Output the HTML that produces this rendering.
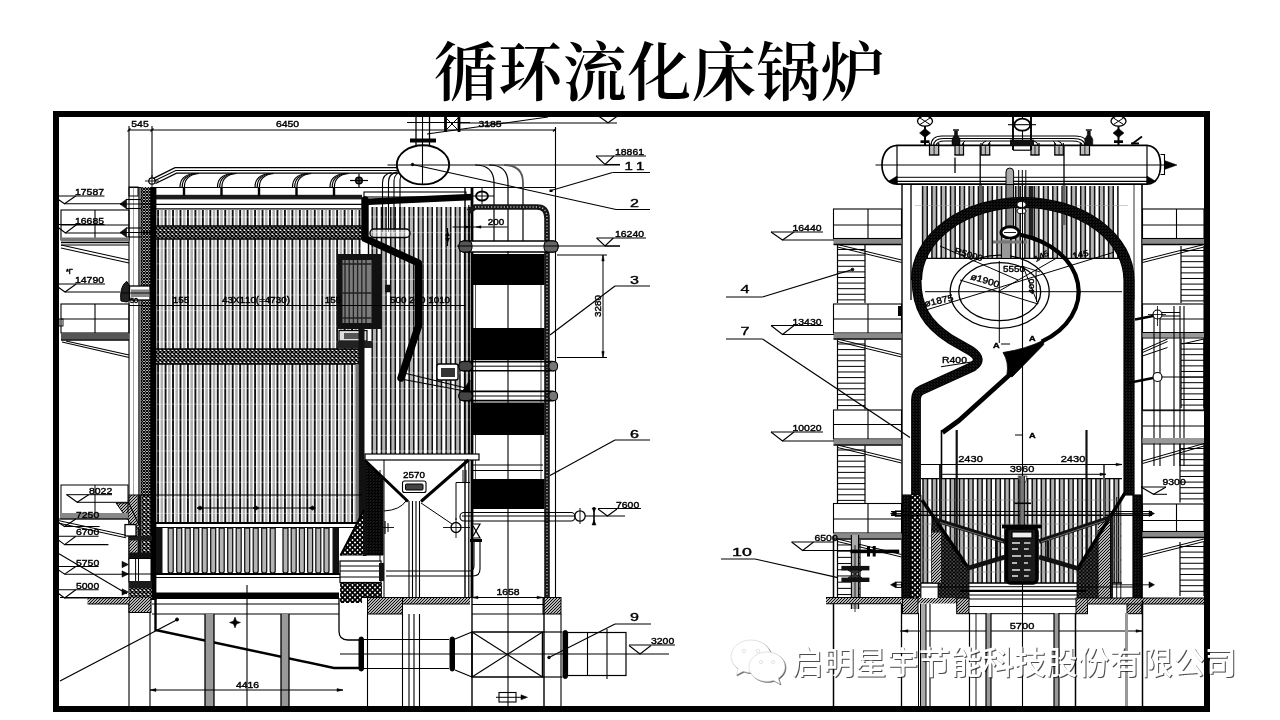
<!DOCTYPE html>
<html lang="zh"><head><meta charset="utf-8"><title>循环流化床锅炉</title>
<style>
html,body{margin:0;padding:0;background:#fff;}
body{width:1280px;height:720px;overflow:hidden;position:relative;font-family:"Liberation Sans","Noto Sans CJK SC",sans-serif;}
h1{position:absolute;left:0;top:34px;width:1280px;margin:0;text-align:center;font-family:"Liberation Serif","Noto Serif CJK SC",serif;font-weight:600;font-size:64px;line-height:80px;letter-spacing:0.5px;color:#000;padding-left:39px;box-sizing:border-box;}
svg{position:absolute;left:0;top:0;}
svg text{font-family:"Liberation Sans","Noto Sans CJK SC",sans-serif;stroke:#000;stroke-width:0.4px;font-kerning:none;}
#wm text{stroke:none;}
</style></head><body>
<h1>循环流化床锅炉</h1>
<svg width="1280" height="720" viewBox="0 0 1280 720">
<defs>
<pattern id="xh" width="4" height="4" patternUnits="userSpaceOnUse"><rect width="4" height="4" fill="#fff"/><path d="M0 0L4 4M4 0L0 4" stroke="#000" stroke-width="1.5"/></pattern>
<pattern id="xh2" width="5" height="5" patternUnits="userSpaceOnUse"><rect width="5" height="5" fill="#fff"/><path d="M0 0L5 5M5 0L0 5" stroke="#000" stroke-width="1.9"/></pattern>
<pattern id="dh" width="3" height="3" patternUnits="userSpaceOnUse"><rect width="3" height="3" fill="#fff"/><path d="M-1 1L1 -1M0 3L3 0M2 4L4 2" stroke="#000" stroke-width="1.1"/></pattern>
<pattern id="wh" width="3" height="3" patternUnits="userSpaceOnUse"><rect width="3" height="3" fill="#fff"/><path d="M-1 1L1 -1M0 3L3 0M2 4L4 2" stroke="#000" stroke-width="1.95"/></pattern>
<pattern id="wh2" width="3" height="3" patternUnits="userSpaceOnUse"><rect width="3" height="3" fill="#fff"/><path d="M-1 2L1 4M0 0L3 3M2 -1L4 1" stroke="#000" stroke-width="1.95"/></pattern>
<pattern id="wl" width="3" height="3" patternUnits="userSpaceOnUse"><rect width="3" height="3" fill="#fff"/><path d="M0 0L3 3M3 0L0 3" stroke="#000" stroke-width="1.15"/></pattern>
<pattern id="xh3" width="3.6" height="3.6" patternUnits="userSpaceOnUse"><rect width="3.6" height="3.6" fill="#fff"/><path d="M0 0L3.6 3.6M3.6 0L0 3.6" stroke="#000" stroke-width="1.7"/></pattern>
</defs>
<clipPath id="clipf"><rect x="59" y="117" width="1145" height="589"/></clipPath>
<g clip-path="url(#clipf)" stroke-linecap="butt" style="filter:blur(0.35px)">
<line x1="129" y1="130" x2="556" y2="130" stroke="#000" stroke-width="1.1" />
<line x1="129" y1="126" x2="129" y2="600" stroke="#000" stroke-width="1.1" />
<line x1="152" y1="126" x2="152" y2="182" stroke="#000" stroke-width="1.1" />
<line x1="555.5" y1="127" x2="555.5" y2="598" stroke="#000" stroke-width="1.1" />
<text x="0" y="0" font-size="9.01" text-anchor="middle" font-weight="normal" fill="#000" transform="translate(140 126.5) scale(1.16 1)" >545</text>
<text x="0" y="0" font-size="9.01" text-anchor="middle" font-weight="normal" fill="#000" transform="translate(287.5 126.5) scale(1.16 1)" >6450</text>
<text x="0" y="0" font-size="9.01" text-anchor="middle" font-weight="normal" fill="#000" transform="translate(490 126.5) scale(1.16 1)" >3185</text>
<path d="M127.5 131.5 L130.5 128.5" fill="none" stroke="#000" stroke-width="1.3" />
<path d="M150.5 131.5 L153.5 128.5" fill="none" stroke="#000" stroke-width="1.3" />
<path d="M553 131.5 L556 128.5" fill="none" stroke="#000" stroke-width="1.3" />
<path d="M161.83 210V523M169.29 210V523M176.75 210V523M184.21 210V523M191.67 210V523M199.13 210V523M206.59 210V523M214.05 210V523M221.51 210V523M228.97 210V523M236.43 210V523M243.89 210V523M251.35 210V523M258.81 210V523M266.27 210V523M273.73 210V523M281.19 210V523M288.65 210V523M296.11 210V523M303.57 210V523M311.03 210V523M318.49 210V523M325.95 210V523M333.41 210V523M340.87 210V523M348.33 210V523M355.79 210V523" fill="none" stroke="#b0b0b0" stroke-width="2.6" />
<path d="M158.1 210V523M165.56 210V523M173.02 210V523M180.48 210V523M187.94 210V523M195.4 210V523M202.86 210V523M210.32 210V523M217.78 210V523M225.24 210V523M232.7 210V523M240.16 210V523M247.62 210V523M255.08 210V523M262.54 210V523M270 210V523M277.46 210V523M284.92 210V523M292.38 210V523M299.84 210V523M307.3 210V523M314.76 210V523M322.22 210V523M329.68 210V523M337.14 210V523M344.6 210V523M352.06 210V523M359.52 210V523" fill="none" stroke="#111" stroke-width="1.9" />
<path d="M372.2 207H376.82V456H372.2ZM381.44 207H386.06V456H381.44ZM390.68 207H395.3V456H390.68ZM399.92 207H404.54V456H399.92ZM409.16 207H413.78V456H409.16ZM418.4 207H423.02V456H418.4ZM427.64 207H432.26V456H427.64ZM436.88 207H441.5V456H436.88ZM446.12 207H450.74V456H446.12ZM455.36 207H459.98V456H455.36ZM464.6 207H469.22V456H464.6Z" fill="#b4b4b4" stroke="none"/>
<path d="M372.2 207V456M376.82 207V456M381.44 207V456M386.06 207V456M390.68 207V456M395.3 207V456M399.92 207V456M404.54 207V456M409.16 207V456M413.78 207V456M418.4 207V456M423.02 207V456M427.64 207V456M432.26 207V456M436.88 207V456M441.5 207V456M446.12 207V456M450.74 207V456M455.36 207V456M459.98 207V456M464.6 207V456M469.22 207V456" fill="none" stroke="#111" stroke-width="1.5" />
<path d="M156 217H470M156 232.6H470M156 248.2H470M156 263.8H470M156 279.4H470M156 295H470M156 310.6H470M156 326.2H470M156 341.8H470M156 357.4H470M156 373H470M156 388.6H470M156 404.2H470M156 419.8H470M156 435.4H470M156 451H470M156 466.6H470M156 482.2H470M156 497.8H470M156 513.4H470" fill="none" stroke="rgba(255,255,255,0.45)" stroke-width="0.8" />
<line x1="129" y1="187.5" x2="556" y2="187.5" stroke="#000" stroke-width="1.1" />
<rect x="152" y="194.8" width="210" height="4.6" fill="#1c1c1c"/>
<line x1="152" y1="204.4" x2="362" y2="204.4" stroke="#000" stroke-width="1.1" />
<line x1="152" y1="208.8" x2="362" y2="208.8" stroke="#000" stroke-width="1.3" />
<rect x="152" y="226" width="216" height="13" fill="url(#xh)"/>
<line x1="152" y1="226" x2="368" y2="226" stroke="#000" stroke-width="1.4" />
<line x1="152" y1="239" x2="368" y2="239" stroke="#000" stroke-width="1.4" />
<rect x="152" y="349" width="212" height="15" fill="url(#xh)"/>
<line x1="152" y1="349" x2="364" y2="349" stroke="#000" stroke-width="1.4" />
<line x1="152" y1="364" x2="364" y2="364" stroke="#000" stroke-width="1.4" />
<circle cx="152" cy="181" r="3.2" fill="#fff" stroke="#000" stroke-width="1.2"/>
<line x1="145" y1="181" x2="159" y2="181" stroke="#000" stroke-width="0.9" />
<line x1="152" y1="175" x2="152" y2="187" stroke="#000" stroke-width="0.9" />
<path d="M153.5 178.3 L175 167.7 L398 167.7" fill="none" stroke="#000" stroke-width="1.3" />
<path d="M154.5 180.8 L175.8 170.5 L398 170.5" fill="none" stroke="#000" stroke-width="1.1" />
<path d="M155.5 183.5 L176.6 173.2 L398 173.2" fill="none" stroke="#000" stroke-width="1.3" />
<path d="M180 187 C180 179 184.5 174.5 194.5 173.5" fill="none" stroke="#000" stroke-width="1.2" />
<path d="M182.2 187 C182.2 179 186.7 174.5 196.7 173.5" fill="none" stroke="#000" stroke-width="1.2" />
<path d="M184.4 187 C184.4 179 188.9 174.5 198.9 173.5" fill="none" stroke="#000" stroke-width="1.2" />
<line x1="184" y1="187" x2="184" y2="196" stroke="#000" stroke-width="2.4" />
<path d="M217.5 187 C217.5 179 222 174.5 232 173.5" fill="none" stroke="#000" stroke-width="1.2" />
<path d="M219.7 187 C219.7 179 224.2 174.5 234.2 173.5" fill="none" stroke="#000" stroke-width="1.2" />
<path d="M221.9 187 C221.9 179 226.4 174.5 236.4 173.5" fill="none" stroke="#000" stroke-width="1.2" />
<line x1="221.5" y1="187" x2="221.5" y2="196" stroke="#000" stroke-width="2.4" />
<path d="M255 187 C255 179 259.5 174.5 269.5 173.5" fill="none" stroke="#000" stroke-width="1.2" />
<path d="M257.2 187 C257.2 179 261.7 174.5 271.7 173.5" fill="none" stroke="#000" stroke-width="1.2" />
<path d="M259.4 187 C259.4 179 263.9 174.5 273.9 173.5" fill="none" stroke="#000" stroke-width="1.2" />
<line x1="259" y1="187" x2="259" y2="196" stroke="#000" stroke-width="2.4" />
<path d="M292.5 187 C292.5 179 297 174.5 307 173.5" fill="none" stroke="#000" stroke-width="1.2" />
<path d="M294.7 187 C294.7 179 299.2 174.5 309.2 173.5" fill="none" stroke="#000" stroke-width="1.2" />
<path d="M296.9 187 C296.9 179 301.4 174.5 311.4 173.5" fill="none" stroke="#000" stroke-width="1.2" />
<line x1="296.5" y1="187" x2="296.5" y2="196" stroke="#000" stroke-width="2.4" />
<path d="M330 187 C330 179 334.5 174.5 344.5 173.5" fill="none" stroke="#000" stroke-width="1.2" />
<path d="M332.2 187 C332.2 179 336.7 174.5 346.7 173.5" fill="none" stroke="#000" stroke-width="1.2" />
<path d="M334.4 187 C334.4 179 338.9 174.5 348.9 173.5" fill="none" stroke="#000" stroke-width="1.2" />
<line x1="334" y1="187" x2="334" y2="196" stroke="#000" stroke-width="2.4" />
<circle cx="359" cy="180.5" r="3.3" fill="#555" stroke="#000" stroke-width="1.5"/>
<line x1="350" y1="180.5" x2="368" y2="180.5" stroke="#000" stroke-width="1.2" />
<line x1="359" y1="174" x2="359" y2="187" stroke="#000" stroke-width="1.2" />
<path d="M382.5 232 V183 Q382.5 174 391.5 172.5" fill="none" stroke="#000" stroke-width="1.1" />
<path d="M388.5 232 V182 Q388.5 173.5 397.5 171.9" fill="none" stroke="#000" stroke-width="1.1" />
<path d="M394 232 V181 Q394 173 403 171.3" fill="none" stroke="#000" stroke-width="1.1" />
<path d="M400 232 V180 Q400 172.5 409 170.7" fill="none" stroke="#000" stroke-width="1.1" />
<ellipse cx="423" cy="164.8" rx="26.2" ry="19.6" fill="#fff" stroke="#000" stroke-width="1.9"/>
<line x1="387.5" y1="165" x2="620" y2="165" stroke="#000" stroke-width="1.1" />
<line x1="422.5" y1="117" x2="422.5" y2="184" stroke="#000" stroke-width="1.1" />
<circle cx="412.5" cy="164.5" r="1.2" fill="#000" stroke="#000" stroke-width="1"/>
<line x1="416" y1="117" x2="416" y2="146" stroke="#000" stroke-width="1.3" />
<line x1="429.5" y1="117" x2="429.5" y2="146" stroke="#000" stroke-width="1.3" />
<rect x="410" y="138.5" width="26" height="4" fill="#000"/>
<line x1="407" y1="122.5" x2="470" y2="122.5" stroke="#000" stroke-width="1.1" />
<line x1="445.5" y1="117" x2="445.5" y2="132" stroke="#000" stroke-width="2.8" />
<line x1="459" y1="117" x2="459" y2="132" stroke="#000" stroke-width="2.8" />
<line x1="446" y1="118" x2="458" y2="130" stroke="#000" stroke-width="1" />
<line x1="446" y1="130" x2="458" y2="118" stroke="#000" stroke-width="1" />
<line x1="460" y1="123" x2="617" y2="123" stroke="#000" stroke-width="1.1" />
<line x1="427" y1="134" x2="548" y2="117" stroke="#000" stroke-width="1.1" />
<path d="M598.5 116 L608 122.8 L617.5 116" fill="none" stroke="#000" stroke-width="1.2" />
<path d="M475 165 Q494 165 494 183 V241" fill="none" stroke="#000" stroke-width="1.2" />
<path d="M489 165 Q508 165 508 183 V241" fill="none" stroke="#000" stroke-width="1.2" />
<path d="M504 165 Q523 165 523 183 V241" fill="none" stroke="#555" stroke-width="1.8" />
<line x1="363" y1="202" x2="472" y2="197" stroke="#000" stroke-width="6.6" />
<ellipse cx="482" cy="196" rx="6" ry="4.5" fill="#fff" stroke="#000" stroke-width="1.8"/>
<line x1="472" y1="196" x2="494" y2="196" stroke="#000" stroke-width="1" />
<line x1="482" y1="188" x2="482" y2="204" stroke="#000" stroke-width="1" />
<path d="M365 200 L365 238.5 L418.5 263 L418.5 326 L401 378" fill="none" stroke="#000" stroke-width="7.4" stroke-linejoin="round" stroke-linecap="round"/>
<path d="M401 379 L470 392" fill="none" stroke="#000" stroke-width="1.1" />
<path d="M404 373 L470 389" fill="none" stroke="#000" stroke-width="1.1" />
<rect x="337" y="254" width="45" height="75" fill="#111"/>
<rect x="342.5" y="260" width="29" height="63" fill="#7a7a7a"/>
<path d="M345 260V323M349.2 260V323M353.4 260V323M357.6 260V323M361.8 260V323M366 260V323" fill="none" stroke="#222" stroke-width="1.3" />
<path d="M342.5 264H371.5M342.5 293H371.5M342.5 318H371.5" fill="none" stroke="#222" stroke-width="1.4" />
<rect x="339" y="330.5" width="28" height="10.5" fill="#ddd"/>
<rect x="339" y="330.5" width="28" height="10.5" fill="none" stroke="#000" stroke-width="1.2"/>
<rect x="344" y="333" width="18" height="6" fill="#555"/>
<rect x="337" y="341" width="35" height="7" fill="#222"/>
<line x1="368.5" y1="239" x2="368.5" y2="254" stroke="#000" stroke-width="1.4" />
<path d="M385.5 285 L390 285 L390 292 L385.5 292 Z" fill="#111" stroke="#000" stroke-width="0.5" />
<rect x="370" y="229" width="40" height="8.5" fill="rgba(255,255,255,0.55)" stroke="#000" stroke-width="1.4" rx="4"/>
<rect x="364" y="192" width="102" height="5" fill="none" stroke="#000" stroke-width="1.1"/>
<rect x="358.5" y="329" width="6" height="195" fill="#111"/>
<rect x="355.8" y="364" width="2.7" height="159" fill="#777"/>
<rect x="141" y="187" width="11" height="309" fill="url(#wl)"/>
<line x1="139" y1="187" x2="139" y2="496" stroke="#000" stroke-width="1.3" />
<line x1="141" y1="187" x2="141" y2="496" stroke="#000" stroke-width="1" />
<line x1="152" y1="187" x2="152" y2="496" stroke="#000" stroke-width="1" />
<line x1="153.3" y1="187" x2="153.3" y2="600" stroke="#000" stroke-width="6.2" />
<line x1="133.5" y1="187" x2="133.5" y2="496" stroke="#666" stroke-width="0.6" />
<rect x="129" y="187" width="9" height="9" fill="none" stroke="#000" stroke-width="1"/>
<path d="M120 204 L126.5 199.2 L126.5 208.8 Z" fill="#111" stroke="#000" stroke-width="0.6" />
<line x1="126" y1="199.5" x2="141" y2="199.5" stroke="#000" stroke-width="1.1" />
<line x1="126" y1="208.5" x2="141" y2="208.5" stroke="#000" stroke-width="1.1" />
<line x1="120" y1="204" x2="152" y2="204" stroke="#000" stroke-width="1" />
<path d="M120 232.5 L126.5 227.7 L126.5 237.3 Z" fill="#111" stroke="#000" stroke-width="0.6" />
<line x1="126" y1="228" x2="141" y2="228" stroke="#000" stroke-width="1.1" />
<line x1="126" y1="237" x2="141" y2="237" stroke="#000" stroke-width="1.1" />
<line x1="120" y1="232.5" x2="152" y2="232.5" stroke="#000" stroke-width="1" />
<text x="0" y="0" font-size="9.01" text-anchor="start" font-weight="normal" fill="#000" transform="translate(75 195) scale(1.16 1)" >17587</text>
<line x1="53.3" y1="196" x2="104.5" y2="196" stroke="#000" stroke-width="1.1" />
<path d="M53.3 196 L64.5 203.8 L75.7 196" fill="none" stroke="#000" stroke-width="1.1" />
<line x1="64.5" y1="203.8" x2="122" y2="203.8" stroke="#000" stroke-width="1.1" />
<text x="0" y="0" font-size="9.01" text-anchor="start" font-weight="normal" fill="#000" transform="translate(75 223.5) scale(1.16 1)" >16685</text>
<line x1="54.3" y1="224.5" x2="104.5" y2="224.5" stroke="#000" stroke-width="1.1" />
<path d="M54.3 224.5 L65.5 233 L76.7 224.5" fill="none" stroke="#000" stroke-width="1.1" />
<line x1="65.5" y1="233" x2="122" y2="233" stroke="#000" stroke-width="1.1" />
<text x="0" y="0" font-size="6.36" text-anchor="start" font-weight="normal" fill="#000" transform="translate(66 274) scale(1.16 1)" >*Γ</text>
<text x="0" y="0" font-size="9.01" text-anchor="start" font-weight="normal" fill="#000" transform="translate(75 283) scale(1.16 1)" >14790</text>
<line x1="53.8" y1="284" x2="105" y2="284" stroke="#000" stroke-width="1.1" />
<path d="M53.8 284 L65 292 L76.2 284" fill="none" stroke="#000" stroke-width="1.1" />
<line x1="65" y1="292" x2="120" y2="292" stroke="#000" stroke-width="1.1" />
<rect x="61" y="210" width="68" height="30" fill="none" stroke="#000" stroke-width="1.1"/>
<line x1="95" y1="210" x2="95" y2="240" stroke="#000" stroke-width="1.1" />
<line x1="61" y1="225" x2="129" y2="225" stroke="#000" stroke-width="1" />
<rect x="61" y="237.5" width="68" height="3.8" fill="#777"/>
<line x1="61" y1="242.5" x2="129" y2="242.5" stroke="#000" stroke-width="1.4" />
<line x1="61" y1="245" x2="129" y2="245" stroke="#000" stroke-width="1.1" />
<line x1="61" y1="245" x2="129" y2="260" stroke="#000" stroke-width="1.1" />
<line x1="61" y1="248" x2="129" y2="263" stroke="#000" stroke-width="1.1" />
<path d="M121 301 C119.5 291 123 283 127 281.5 L129.5 286 L129.5 300 L127 302 Z" fill="#222" stroke="#000" stroke-width="1" />
<rect x="129.5" y="286" width="20.5" height="14" fill="#fff" stroke="#000" stroke-width="1.3"/>
<rect x="131" y="289.5" width="18" height="7.5" fill="#888"/>
<line x1="121" y1="293" x2="152" y2="293" stroke="#000" stroke-width="0.9" />
<rect x="61" y="304" width="68" height="29" fill="none" stroke="#000" stroke-width="1.1"/>
<line x1="95" y1="304" x2="95" y2="333" stroke="#000" stroke-width="1.1" />
<line x1="61" y1="319" x2="129" y2="319" stroke="#000" stroke-width="1" />
<rect x="61" y="333" width="68" height="6.5" fill="#555"/>
<line x1="61" y1="340" x2="129" y2="340" stroke="#000" stroke-width="1.3" />
<line x1="66" y1="341" x2="129" y2="355" stroke="#000" stroke-width="1.1" />
<line x1="62" y1="342" x2="129" y2="357.5" stroke="#000" stroke-width="1.1" />
<rect x="59" y="319" width="4" height="7" fill="none" stroke="#000" stroke-width="0.9"/>
<line x1="129" y1="305.5" x2="466" y2="305.5" stroke="#000" stroke-width="1" />
<text x="0" y="0" font-size="8.48" text-anchor="middle" font-weight="normal" fill="#000" transform="translate(181 303) scale(1.16 1)" >155</text>
<text x="0" y="0" font-size="8.48" text-anchor="middle" font-weight="normal" fill="#000" transform="translate(256 303) scale(1.16 1)" >43X110(=4730)</text>
<text x="0" y="0" font-size="8.48" text-anchor="middle" font-weight="normal" fill="#000" transform="translate(333 303) scale(1.16 1)" >155</text>
<text x="0" y="0" font-size="8.48" text-anchor="middle" font-weight="normal" fill="#000" transform="translate(420 303) scale(1.16 1)" >500 200 1010</text>
<text x="0" y="0" font-size="6.36" text-anchor="middle" font-weight="normal" fill="#000" transform="translate(134 303) scale(1.16 1)" >50</text>
<line x1="152" y1="495" x2="362" y2="495" stroke="#000" stroke-width="1" />
<line x1="200" y1="508" x2="312.5" y2="508" stroke="#000" stroke-width="1" />
<path d="M197 508 L200 506 L203 508 L200 510 Z" fill="#000" stroke="#000" stroke-width="0.8" />
<path d="M253 508 L256 506 L259 508 L256 510 Z" fill="#000" stroke="#000" stroke-width="0.8" />
<path d="M309.5 508 L312.5 506 L315.5 508 L312.5 510 Z" fill="#000" stroke="#000" stroke-width="0.8" />
<line x1="152" y1="523" x2="362" y2="523" stroke="#000" stroke-width="2.2" />
<line x1="152" y1="527.5" x2="362" y2="527.5" stroke="#000" stroke-width="1" />
<path d="M168.2 528H173.2V571Q173.2 573 170.7 573Q168.2 573 168.2 571ZM176.7 528H181.7V571Q181.7 573 179.2 573Q176.7 573 176.7 571ZM185.2 528H190.2V571Q190.2 573 187.7 573Q185.2 573 185.2 571ZM193.7 528H198.7V571Q198.7 573 196.2 573Q193.7 573 193.7 571ZM202.2 528H207.2V571Q207.2 573 204.7 573Q202.2 573 202.2 571ZM210.7 528H215.7V571Q215.7 573 213.2 573Q210.7 573 210.7 571ZM219.2 528H224.2V571Q224.2 573 221.7 573Q219.2 573 219.2 571ZM227.7 528H232.7V571Q232.7 573 230.2 573Q227.7 573 227.7 571ZM236.2 528H241.2V571Q241.2 573 238.7 573Q236.2 573 236.2 571ZM244.7 528H249.7V571Q249.7 573 247.2 573Q244.7 573 244.7 571ZM253.2 528H258.2V571Q258.2 573 255.7 573Q253.2 573 253.2 571ZM261.7 528H266.7V571Q266.7 573 264.2 573Q261.7 573 261.7 571ZM270.2 528H275.2V571Q275.2 573 272.7 573Q270.2 573 270.2 571ZM283 528H288V571Q288 573 285.5 573Q283 573 283 571ZM291.2 528H296.2V571Q296.2 573 293.7 573Q291.2 573 291.2 571ZM299.4 528H304.4V571Q304.4 573 301.9 573Q299.4 573 299.4 571ZM307.6 528H312.6V571Q312.6 573 310.1 573Q307.6 573 307.6 571ZM315.8 528H320.8V571Q320.8 573 318.3 573Q315.8 573 315.8 571ZM324 528H329V571Q329 573 326.5 573Q324 573 324 571Z" fill="#b4b4b4" stroke="#111" stroke-width="1.25" />
<rect x="156" y="528" width="6.5" height="45" fill="#111"/>
<rect x="332.5" y="528" width="6.5" height="45" fill="#111"/>
<line x1="152" y1="574" x2="362" y2="574" stroke="#000" stroke-width="2" />
<line x1="152" y1="577.5" x2="362" y2="577.5" stroke="#000" stroke-width="1" />
<rect x="156" y="592.5" width="183" height="6.5" fill="#000"/>
<line x1="152" y1="604" x2="339" y2="604" stroke="#000" stroke-width="1" />
<line x1="152" y1="614" x2="339" y2="614" stroke="#000" stroke-width="1" />
<line x1="247" y1="585" x2="247" y2="706" stroke="#000" stroke-width="1.1" />
<path d="M155.5 599 L155.5 630 L334 668 L364 668" fill="none" stroke="#000" stroke-width="2.4" />
<line x1="60" y1="681" x2="177.5" y2="619.5" stroke="#000" stroke-width="1.3" />
<circle cx="177" cy="619.5" r="1.5" fill="#000" stroke="#000" stroke-width="1"/>
<path d="M235 617 L236.5 621 L240.5 622.5 L236.5 624 L235 628 L233.5 624 L229.5 622.5 L233.5 621 Z" fill="#000" stroke="#000" stroke-width="0.5" />
<line x1="129" y1="600" x2="129" y2="706" stroke="#000" stroke-width="1.1" />
<line x1="150" y1="612" x2="150" y2="706" stroke="#000" stroke-width="1.1" />
<rect x="205" y="614" width="9" height="92" fill="#999"/>
<line x1="205" y1="614" x2="205" y2="706" stroke="#000" stroke-width="1.3" />
<line x1="214" y1="614" x2="214" y2="706" stroke="#000" stroke-width="1.3" />
<rect x="281" y="614" width="8" height="92" fill="#999"/>
<line x1="281" y1="614" x2="281" y2="706" stroke="#000" stroke-width="1.3" />
<line x1="289" y1="614" x2="289" y2="706" stroke="#000" stroke-width="1.3" />
<line x1="150" y1="690" x2="343" y2="690" stroke="#000" stroke-width="1" />
<text x="0" y="0" font-size="9.01" text-anchor="middle" font-weight="normal" fill="#000" transform="translate(247.5 688) scale(1.16 1)" >4416</text>
<path d="M150 690 L156 688.6 L156 691.4 Z" fill="#000" stroke="#000" stroke-width="0.5" />
<path d="M343 690 L337 688.6 L337 691.4 Z" fill="#000" stroke="#000" stroke-width="0.5" />
<rect x="129" y="597.5" width="22" height="15" fill="url(#dh)"/>
<rect x="129" y="597.5" width="22" height="15" fill="none" stroke="#000" stroke-width="1"/>
<rect x="87.5" y="597.5" width="41.5" height="6.5" fill="url(#dh)"/>
<line x1="60" y1="597.5" x2="129" y2="597.5" stroke="#000" stroke-width="1" />
<line x1="87.5" y1="604" x2="129" y2="604" stroke="#000" stroke-width="1" />
<rect x="129" y="495" width="8.5" height="58" fill="url(#dh)"/>
<rect x="141.4" y="495" width="9.6" height="58" fill="url(#xh)"/>
<path d="M129 495 L151 495 L151 560 L129 560 Z" fill="none" stroke="#000" stroke-width="1" />
<rect x="137.5" y="495" width="3.9" height="65" fill="#111"/>
<path d="M116 503 L129 503 L141 530 L131 524 Z" fill="url(#dh)" stroke="#000" stroke-width="1" />
<rect x="129" y="536" width="23" height="4.5" fill="#1a1a1a"/>
<rect x="125" y="524.6" width="11" height="11.4" fill="#fff" stroke="#000" stroke-width="1.3"/>
<rect x="129" y="552.5" width="22" height="6" fill="#111"/>
<rect x="129" y="558.5" width="22" height="23.5" fill="#fff" stroke="#000" stroke-width="1"/>
<line x1="135.6" y1="558.5" x2="135.6" y2="582" stroke="#000" stroke-width="1" />
<line x1="138.5" y1="558.5" x2="138.5" y2="582" stroke="#000" stroke-width="1" />
<line x1="122" y1="574" x2="152" y2="574" stroke="#000" stroke-width="1" />
<rect x="129" y="581" width="23" height="7" fill="#1a1a1a"/>
<rect x="129" y="588" width="23" height="10" fill="url(#xh)"/>
<path d="M122 561.3 L128.5 564.5 L122 567.7 Z" fill="#111" stroke="#000" stroke-width="0.5" />
<path d="M122 570.8 L128.5 574 L122 577.2 Z" fill="#111" stroke="#000" stroke-width="0.5" />
<path d="M122 588.8 L128.5 592 L122 595.2 Z" fill="#111" stroke="#000" stroke-width="0.5" />
<rect x="61" y="485" width="67" height="33.8" fill="none" stroke="#000" stroke-width="1"/>
<line x1="95" y1="485" x2="95" y2="514" stroke="#000" stroke-width="1" />
<rect x="61" y="513" width="67" height="5.5" fill="#888"/>
<text x="0" y="0" font-size="9.01" text-anchor="start" font-weight="normal" fill="#000" transform="translate(89 494) scale(1.16 1)" >8022</text>
<path d="M66.5 494.5 L77.2 502.3 L89 494.5" fill="none" stroke="#000" stroke-width="1.1" />
<line x1="77.2" y1="502.3" x2="128" y2="502.3" stroke="#000" stroke-width="1" />
<line x1="66.5" y1="494.7" x2="112" y2="494.7" stroke="#000" stroke-width="1" />
<text x="0" y="0" font-size="9.01" text-anchor="start" font-weight="normal" fill="#000" transform="translate(76 518) scale(1.16 1)" >7250</text>
<line x1="53.4" y1="519" x2="127.8" y2="519" stroke="#000" stroke-width="1.1" />
<path d="M53.4 519 L64.6 526.5 L75.8 519" fill="none" stroke="#000" stroke-width="1.1" />
<line x1="64.6" y1="526.5" x2="99.6" y2="526.5" stroke="#000" stroke-width="1.1" />
<text x="0" y="0" font-size="9.01" text-anchor="start" font-weight="normal" fill="#000" transform="translate(76 535.2) scale(1.16 1)" >6700</text>
<line x1="53.4" y1="536.2" x2="98.6" y2="536.2" stroke="#000" stroke-width="1.1" />
<path d="M53.4 536.2 L64.6 544.6 L75.8 536.2" fill="none" stroke="#000" stroke-width="1.1" />
<line x1="64.6" y1="544.6" x2="108.4" y2="544.6" stroke="#000" stroke-width="1.1" />
<line x1="59" y1="520.7" x2="126" y2="535.3" stroke="#000" stroke-width="1" />
<line x1="59" y1="523.2" x2="126" y2="537.8" stroke="#000" stroke-width="1" />
<line x1="59" y1="553.8" x2="126.8" y2="593.7" stroke="#000" stroke-width="1.1" />
<text x="0" y="0" font-size="9.01" text-anchor="start" font-weight="normal" fill="#000" transform="translate(76 565.5) scale(1.16 1)" >5750</text>
<line x1="53.4" y1="566.5" x2="98.6" y2="566.5" stroke="#000" stroke-width="1.1" />
<path d="M53.4 566.5 L64.6 574.2 L75.8 566.5" fill="none" stroke="#000" stroke-width="1.1" />
<line x1="64.6" y1="574.2" x2="127.8" y2="574.2" stroke="#000" stroke-width="1.1" />
<text x="0" y="0" font-size="9.01" text-anchor="start" font-weight="normal" fill="#000" transform="translate(76 588.8) scale(1.16 1)" >5000</text>
<line x1="53.4" y1="589.8" x2="98.6" y2="589.8" stroke="#000" stroke-width="1.1" />
<path d="M53.4 589.8 L64.6 598 L75.8 589.8" fill="none" stroke="#000" stroke-width="1.1" />
<line x1="64.6" y1="598" x2="122" y2="598" stroke="#000" stroke-width="1.1" />
<line x1="472" y1="187" x2="472" y2="598" stroke="#000" stroke-width="2.8" />
<line x1="468.8" y1="205" x2="468.8" y2="598" stroke="#000" stroke-width="1.2" />
<line x1="465" y1="187" x2="465" y2="598" stroke="#000" stroke-width="1.4" />
<path d="M468.5 211.5 L475 207 H537 Q547 207 547 218 V598" fill="none" stroke="#161616" stroke-width="5.6" />
<path d="M475 207 H537 Q547 207 547 218 V598" fill="none" stroke="#bbb" stroke-width="1.4" stroke-dasharray="1.2 2"/>
<rect x="459" y="241" width="99" height="11" fill="#fff" stroke="#000" stroke-width="1.3" rx="5"/>
<rect x="459" y="241" width="13" height="11" fill="#555" stroke="#000" stroke-width="1" rx="4"/>
<rect x="544" y="241" width="14" height="11" fill="#666" stroke="#000" stroke-width="1" rx="4"/>
<line x1="457" y1="246" x2="620" y2="246" stroke="#000" stroke-width="1" />
<rect x="472.5" y="254" width="72" height="31" fill="#000"/>
<rect x="472.5" y="328" width="72" height="32" fill="#000"/>
<rect x="472.5" y="402.5" width="72" height="32.5" fill="#000"/>
<rect x="472.5" y="479" width="72" height="30" fill="#000"/>
<line x1="508" y1="251" x2="508" y2="706" stroke="#000" stroke-width="1.1" />
<line x1="475.5" y1="285" x2="475.5" y2="328" stroke="#444" stroke-width="0.9" />
<line x1="541" y1="285" x2="541" y2="328" stroke="#444" stroke-width="0.9" />
<line x1="475.5" y1="360" x2="475.5" y2="402.5" stroke="#444" stroke-width="0.9" />
<line x1="541" y1="360" x2="541" y2="402.5" stroke="#444" stroke-width="0.9" />
<line x1="475.5" y1="435" x2="475.5" y2="479" stroke="#444" stroke-width="0.9" />
<line x1="541" y1="435" x2="541" y2="479" stroke="#444" stroke-width="0.9" />
<rect x="459" y="361.6" width="98" height="9.2" fill="none" stroke="#000" stroke-width="1.6" rx="4.5"/>
<line x1="462" y1="366.2" x2="555" y2="366.2" stroke="#000" stroke-width="1" />
<rect x="549" y="361.6" width="8.5" height="9.2" fill="#777" stroke="#000" stroke-width="1" rx="3.5"/>
<rect x="459" y="361.6" width="13" height="9.2" fill="#444" stroke="#000" stroke-width="1" rx="3.5"/>
<rect x="459" y="391.4" width="98" height="9.2" fill="none" stroke="#000" stroke-width="1.6" rx="4.5"/>
<line x1="462" y1="396" x2="555" y2="396" stroke="#000" stroke-width="1" />
<rect x="549" y="391.4" width="8.5" height="9.2" fill="#777" stroke="#000" stroke-width="1" rx="3.5"/>
<rect x="459" y="391.4" width="13" height="9.2" fill="#444" stroke="#000" stroke-width="1" rx="3.5"/>
<rect x="437" y="364" width="21" height="16" fill="#fff" stroke="#000" stroke-width="1.3" rx="2"/>
<rect x="441" y="368" width="14" height="9" fill="#333"/>
<path d="M462 392 L470 380 L470 392 Z" fill="#000" stroke="#000" stroke-width="0.8" />
<line x1="472" y1="465" x2="543" y2="465" stroke="#000" stroke-width="1" />
<line x1="472" y1="470.5" x2="543" y2="470.5" stroke="#000" stroke-width="1" />
<line x1="452.5" y1="227" x2="507.5" y2="227" stroke="#000" stroke-width="1" />
<text x="0" y="0" font-size="8.48" text-anchor="middle" font-weight="normal" fill="#000" transform="translate(496 225) scale(1.16 1)" >200</text>
<path d="M470 227 L465 225.8 L465 228.2 Z" fill="#000" stroke="#000" stroke-width="0.5" />
<path d="M476 227 L481 225.8 L481 228.2 Z" fill="#000" stroke="#000" stroke-width="0.5" />
<line x1="447.5" y1="228" x2="447.5" y2="246" stroke="#000" stroke-width="1" />
<path d="M445.5 236 L449.5 236 L447.5 231 Z" fill="#000" stroke="#000" stroke-width="0.5" />
<path d="M445.5 238 L449.5 238 L447.5 243 Z" fill="#000" stroke="#000" stroke-width="0.5" />
<line x1="603" y1="255" x2="603" y2="357.5" stroke="#000" stroke-width="1" />
<line x1="557" y1="255" x2="607" y2="255" stroke="#000" stroke-width="1" />
<line x1="557" y1="357.5" x2="607" y2="357.5" stroke="#000" stroke-width="1" />
<text x="0" y="0" font-size="8.48" text-anchor="middle" font-weight="normal" fill="#000" transform="translate(600.5 306) rotate(-90) scale(1.16 1)" >3280</text>
<path d="M603 255 L601.8 261 L604.2 261 Z" fill="#000" stroke="#000" stroke-width="0.5" />
<path d="M603 357.5 L601.8 351.5 L604.2 351.5 Z" fill="#000" stroke="#000" stroke-width="0.5" />
<text x="0" y="0" font-size="9.01" text-anchor="start" font-weight="normal" fill="#000" transform="translate(615 155) scale(1.16 1)" >18861</text>
<line x1="596.075" y1="156" x2="646" y2="156" stroke="#000" stroke-width="1.1" />
<path d="M596.075 156 L605 164.5 L613.925 156" fill="none" stroke="#000" stroke-width="1.1" />
<line x1="605" y1="164.5" x2="620" y2="164.5" stroke="#000" stroke-width="1.1" />
<text x="0" y="0" font-size="9.01" text-anchor="start" font-weight="normal" fill="#000" transform="translate(615 237) scale(1.16 1)" >16240</text>
<line x1="596.6" y1="238" x2="646" y2="238" stroke="#000" stroke-width="1.1" />
<path d="M596.6 238 L605 246 L613.4 238" fill="none" stroke="#000" stroke-width="1.1" />
<line x1="605" y1="246" x2="620" y2="246" stroke="#000" stroke-width="1.1" />
<text x="0" y="0" font-size="11.5" text-anchor="middle" font-weight="normal" fill="#000" transform="translate(636 169.5) scale(1.3 1)" letter-spacing="2.5">11</text>
<line x1="612.5" y1="172.5" x2="650" y2="172.5" stroke="#000" stroke-width="1.1" />
<line x1="612.5" y1="172.5" x2="551" y2="190.5" stroke="#000" stroke-width="1.2" />
<rect x="549.5" y="189.5" width="3" height="2.5" fill="#000"/>
<text x="0" y="0" font-size="11.5" text-anchor="middle" font-weight="normal" fill="#000" transform="translate(634.5 206.5) scale(1.4 1)" >2</text>
<line x1="616" y1="209.5" x2="650" y2="209.5" stroke="#000" stroke-width="1.1" />
<line x1="616" y1="209.5" x2="412.5" y2="164.5" stroke="#000" stroke-width="1.2" />
<text x="0" y="0" font-size="11.5" text-anchor="middle" font-weight="normal" fill="#000" transform="translate(634.5 284) scale(1.4 1)" >3</text>
<line x1="615" y1="286" x2="650" y2="286" stroke="#000" stroke-width="1.1" />
<line x1="615" y1="286" x2="550" y2="335" stroke="#000" stroke-width="1.2" />
<text x="0" y="0" font-size="11.5" text-anchor="middle" font-weight="normal" fill="#000" transform="translate(634.5 437.5) scale(1.4 1)" >6</text>
<line x1="615" y1="440" x2="650" y2="440" stroke="#000" stroke-width="1.1" />
<line x1="615" y1="440" x2="550" y2="475.5" stroke="#000" stroke-width="1.2" />
<text x="0" y="0" font-size="11.5" text-anchor="middle" font-weight="normal" fill="#000" transform="translate(634.5 620.5) scale(1.4 1)" >9</text>
<line x1="615" y1="624" x2="651" y2="624" stroke="#000" stroke-width="1.1" />
<line x1="615" y1="624" x2="549" y2="657.5" stroke="#000" stroke-width="1.2" />
<circle cx="549" cy="657.5" r="1.3" fill="#000" stroke="#000" stroke-width="1"/>
<text x="0" y="0" font-size="9.01" text-anchor="start" font-weight="normal" fill="#000" transform="translate(616 507.5) scale(1.16 1)" >7600</text>
<line x1="598" y1="508.5" x2="641" y2="508.5" stroke="#000" stroke-width="1" />
<path d="M598 509 L607.5 516 L617 509" fill="none" stroke="#000" stroke-width="1.1" />
<line x1="462" y1="516" x2="625" y2="516" stroke="#000" stroke-width="1" />
<circle cx="580" cy="516" r="5.2" fill="#fff" stroke="#000" stroke-width="1.3"/>
<line x1="580" y1="508" x2="580" y2="524" stroke="#000" stroke-width="0.9" />
<line x1="594" y1="507" x2="594" y2="525" stroke="#000" stroke-width="1.6" />
<path d="M592 508 L596 508 L594 512 Z" fill="#000" stroke="#000" stroke-width="0.5" />
<path d="M592 525 L596 525 L594 520 Z" fill="#000" stroke="#000" stroke-width="0.5" />
<rect x="460" y="512.5" width="115" height="8.5" fill="none" stroke="#000" stroke-width="1.1" rx="4"/>
<text x="0" y="0" font-size="9.01" text-anchor="start" font-weight="normal" fill="#000" transform="translate(651 644) scale(1.16 1)" >3200</text>
<line x1="629" y1="645" x2="675" y2="645" stroke="#000" stroke-width="1" />
<path d="M629 645.5 L640 654 L651 645.5" fill="none" stroke="#000" stroke-width="1.1" />
<line x1="340" y1="654" x2="669" y2="654" stroke="#000" stroke-width="1" />
<rect x="365" y="454" width="114" height="6" fill="#fff" stroke="#000" stroke-width="1.2"/>
<line x1="364.5" y1="460" x2="408" y2="501.5" stroke="#000" stroke-width="3" />
<line x1="468.5" y1="460" x2="421" y2="501.5" stroke="#000" stroke-width="3" />
<path d="M409 501V598M412.5 501V598M416 501V598M419.5 501V598" fill="none" stroke="#000" stroke-width="1.1" />
<line x1="384" y1="460" x2="384" y2="598" stroke="#000" stroke-width="1" />
<line x1="380" y1="470" x2="380" y2="598" stroke="#000" stroke-width="1" />
<text x="0" y="0" font-size="8.48" text-anchor="middle" font-weight="normal" fill="#000" transform="translate(414 477.5) scale(1.16 1)" >2570</text>
<rect x="402.5" y="481" width="23.5" height="11.5" fill="#fff" stroke="#000" stroke-width="1.1" rx="2"/>
<rect x="405.5" y="484" width="17.5" height="6" fill="#444" stroke="#000" stroke-width="1" rx="1"/>
<path d="M384 511 Q400 510 406 501" fill="none" stroke="#000" stroke-width="1" />
<line x1="421" y1="503" x2="452" y2="524" stroke="#000" stroke-width="1" />
<circle cx="456" cy="527.5" r="5" fill="#fff" stroke="#000" stroke-width="1.3"/>
<line x1="443" y1="527.5" x2="470" y2="527.5" stroke="#000" stroke-width="0.9" />
<line x1="456" y1="518" x2="456" y2="538" stroke="#000" stroke-width="0.9" />
<path d="M456 520 L456 482.5 L470 482.5" fill="none" stroke="#000" stroke-width="1" />
<line x1="463" y1="470" x2="463" y2="482.5" stroke="#000" stroke-width="1" />
<line x1="466" y1="470" x2="466" y2="482.5" stroke="#000" stroke-width="1" />
<path d="M472 524 L480 524 L472 538 L480 538 L472 524" fill="#fff" stroke="#000" stroke-width="1.2" />
<rect x="470" y="539" width="12" height="3" fill="#000"/>
<path d="M474 542 V566 Q474 571 469 571 H386" fill="none" stroke="#000" stroke-width="1.1" />
<path d="M480 542 V569 Q480 576 473 576 H386" fill="none" stroke="#000" stroke-width="1.1" />
<line x1="340" y1="527.5" x2="394" y2="527.5" stroke="#000" stroke-width="0.9" />
<line x1="385" y1="521" x2="385" y2="534" stroke="#000" stroke-width="1.2" />
<line x1="388" y1="523" x2="388" y2="532" stroke="#000" stroke-width="1" />
<path d="M365 462 L383 480 L383 555 L365 555 Z" fill="url(#wh)" stroke="#000" stroke-width="1" />
<path d="M365 508 L365 555 L340.5 555 Z" fill="url(#xh2)" stroke="#000" stroke-width="1" />
<rect x="363" y="462" width="3.5" height="94" fill="#111"/>
<path d="M340.5 555.5 L364 510" fill="none" stroke="#000" stroke-width="2" />
<rect x="340" y="561" width="41" height="21.5" fill="#fff" stroke="#000" stroke-width="1.2"/>
<path d="M340 566H381M340 571H381M340 577H381" fill="none" stroke="#000" stroke-width="1" />
<rect x="379" y="563" width="5" height="18" fill="#111"/>
<rect x="340" y="583" width="42" height="15" fill="url(#xh2)"/>
<rect x="367.5" y="597.5" width="102.5" height="6.5" fill="url(#dh)"/>
<line x1="340" y1="597.5" x2="561" y2="597.5" stroke="#000" stroke-width="1.2" />
<line x1="367.5" y1="604" x2="470" y2="604" stroke="#000" stroke-width="1" />
<rect x="367.5" y="597.5" width="35" height="16.5" fill="url(#dh)"/>
<rect x="367.5" y="597.5" width="35" height="16.5" fill="none" stroke="#000" stroke-width="1"/>
<rect x="543" y="597.5" width="18" height="16.5" fill="url(#dh)"/>
<rect x="543" y="597.5" width="18" height="16.5" fill="none" stroke="#000" stroke-width="1"/>
<rect x="340" y="584" width="22" height="19" fill="url(#xh2)"/>
<path d="M367.5 614V706M402.5 614V706M409 614V706M414 614V706M419.5 614V706" fill="none" stroke="#000" stroke-width="1.1" />
<line x1="472" y1="598" x2="472" y2="706" stroke="#000" stroke-width="1.4" />
<line x1="544" y1="598" x2="544" y2="706" stroke="#000" stroke-width="1.4" />
<line x1="561" y1="614" x2="561" y2="706" stroke="#000" stroke-width="1.1" />
<text x="0" y="0" font-size="9.01" text-anchor="middle" font-weight="normal" fill="#000" transform="translate(508 594.5) scale(1.16 1)" >1658</text>
<path d="M472 597.5 L478 596.2 L478 598.8 Z" fill="#000" stroke="#000" stroke-width="0.5" />
<path d="M543 597.5 L537 596.2 L537 598.8 Z" fill="#000" stroke="#000" stroke-width="0.5" />
<line x1="472" y1="604.5" x2="544" y2="604.5" stroke="#000" stroke-width="1" />
<line x1="472" y1="614" x2="544" y2="614" stroke="#000" stroke-width="1" />
<rect x="472" y="632" width="70.5" height="45" fill="none" stroke="#000" stroke-width="1.5"/>
<line x1="472" y1="632" x2="542.5" y2="677" stroke="#000" stroke-width="1.1" />
<line x1="472" y1="677" x2="542.5" y2="632" stroke="#000" stroke-width="1.1" />
<line x1="472" y1="632" x2="455" y2="639" stroke="#000" stroke-width="1.2" />
<line x1="472" y1="677" x2="455" y2="670" stroke="#000" stroke-width="1.2" />
<rect x="450" y="637" width="4.5" height="34" fill="#000" stroke="#000" stroke-width="1" rx="2.2"/>
<line x1="364" y1="639.5" x2="449" y2="639.5" stroke="#000" stroke-width="1.2" />
<line x1="364" y1="668.5" x2="449" y2="668.5" stroke="#000" stroke-width="1.2" />
<rect x="359" y="637" width="4.5" height="34" fill="#000" stroke="#000" stroke-width="1" rx="2.2"/>
<path d="M339 598 V631 Q339 640 348 640 H359" fill="none" stroke="#000" stroke-width="1.3" />
<line x1="542.5" y1="632" x2="562.5" y2="632" stroke="#000" stroke-width="1.2" />
<line x1="542.5" y1="677" x2="562.5" y2="677" stroke="#000" stroke-width="1.2" />
<rect x="563" y="630.5" width="4.5" height="48" fill="#000" stroke="#000" stroke-width="1" rx="2.2"/>
<rect x="567.5" y="632.5" width="58.5" height="43" fill="none" stroke="#000" stroke-width="1.2"/>
<line x1="587.5" y1="632.5" x2="587.5" y2="675.5" stroke="#000" stroke-width="1.1" />
<line x1="607" y1="629" x2="607" y2="679" stroke="#000" stroke-width="1.1" />
<rect x="499" y="692.5" width="17" height="9.5" fill="none" stroke="#000" stroke-width="1.1"/>
<line x1="496" y1="697.3" x2="522" y2="697.3" stroke="#000" stroke-width="1" />
<path d="M527.5 697.3 L521 694.8 L521 699.8 Z" fill="#000" stroke="#000" stroke-width="0.5" />
<path d="M922.6 186H927.25V258H922.6ZM931.9 186H936.55V258H931.9ZM941.2 186H945.85V258H941.2ZM950.5 186H955.15V258H950.5ZM959.8 186H964.45V258H959.8ZM969.1 186H973.75V258H969.1ZM978.4 186H983.05V258H978.4ZM987.7 186H992.35V258H987.7ZM997 186H1001.65V258H997ZM1006.3 186H1010.95V258H1006.3ZM1015.6 186H1020.25V258H1015.6ZM1024.9 186H1029.55V258H1024.9ZM1034.2 186H1038.85V258H1034.2ZM1043.5 186H1048.15V258H1043.5ZM1052.8 186H1057.45V258H1052.8ZM1062.1 186H1066.75V258H1062.1ZM1071.4 186H1076.05V258H1071.4ZM1080.7 186H1085.35V258H1080.7ZM1090 186H1094.65V258H1090ZM1099.3 186H1103.95V258H1099.3ZM1108.6 186H1113.25V258H1108.6Z" fill="#b4b4b4" stroke="none"/>
<path d="M922.6 186V258M927.25 186V258M931.9 186V258M936.55 186V258M941.2 186V258M945.85 186V258M950.5 186V258M955.15 186V258M959.8 186V258M964.45 186V258M969.1 186V258M973.75 186V258M978.4 186V258M983.05 186V258M987.7 186V258M992.35 186V258M997 186V258M1001.65 186V258M1006.3 186V258M1010.95 186V258M1015.6 186V258M1020.25 186V258M1024.9 186V258M1029.55 186V258M1034.2 186V258M1038.85 186V258M1043.5 186V258M1048.15 186V258M1052.8 186V258M1057.45 186V258M1062.1 186V258M1066.75 186V258M1071.4 186V258M1076.05 186V258M1080.7 186V258M1085.35 186V258M1090 186V258M1094.65 186V258M1099.3 186V258M1103.95 186V258M1108.6 186V258M1113.25 186V258M1117.9 186V258" fill="none" stroke="#111" stroke-width="1.5" />
<line x1="922" y1="258.3" x2="1122" y2="258.3" stroke="#000" stroke-width="1.2" />
<line x1="915" y1="205.5" x2="1128" y2="205.5" stroke="#999" stroke-width="0.5" />
<rect x="979" y="184" width="3" height="56" fill="#666"/>
<rect x="1062.5" y="184" width="3" height="41" fill="#666"/>
<rect x="1006" y="168" width="7.5" height="58" fill="#888"/>
<line x1="1006" y1="170" x2="1006" y2="226" stroke="#000" stroke-width="1" />
<line x1="1013.5" y1="170" x2="1013.5" y2="226" stroke="#000" stroke-width="1" />
<rect x="1029.5" y="186" width="3.5" height="50" fill="#222"/>
<line x1="902" y1="184" x2="902" y2="600" stroke="#000" stroke-width="1.4" />
<line x1="911" y1="184" x2="911" y2="300" stroke="#000" stroke-width="1.3" />
<line x1="1134" y1="184" x2="1134" y2="300" stroke="#444" stroke-width="1.1" />
<line x1="1142" y1="184" x2="1142" y2="600" stroke="#000" stroke-width="1.6" />
<rect x="898" y="306" width="3" height="10" fill="#000"/>
<path d="M916.5 280 A106.25 77.5 0 0 1 1129 280 V495" fill="none" stroke="#000" stroke-width="11.2" />
<path d="M916.5 280 A106.25 77.5 0 0 1 1129 280 V495" fill="none" stroke="url(#wh)" stroke-width="9.4" />
<path d="M916.5 279 C916.5 308 927 324 950 339 L971 351 Q984 360 972 367 L921.5 390 Q916 392.5 916 400 V495" fill="none" stroke="#000" stroke-width="9.8" stroke-linejoin="round"/>
<path d="M916.5 279 C916.5 308 927 324 950 339 L971 351 Q984 360 972 367 L921.5 390 Q916 392.5 916 400 V495" fill="none" stroke="url(#wh2)" stroke-width="8" stroke-linejoin="round"/>
<ellipse cx="1021.5" cy="204.5" rx="4.5" ry="3" fill="#fff" stroke="#000" stroke-width="1"/>
<ellipse cx="1021.5" cy="211" rx="4.5" ry="2.6" fill="#fff" stroke="#000" stroke-width="1"/>
<ellipse cx="999.7" cy="291.7" rx="49.5" ry="36.6" fill="none" stroke="#000" stroke-width="1.3"/>
<ellipse cx="999.7" cy="291.7" rx="41" ry="29" fill="none" stroke="#000" stroke-width="1.3"/>
<line x1="925" y1="291.7" x2="1122" y2="291.7" stroke="#000" stroke-width="1" />
<line x1="999.3" y1="261" x2="999.3" y2="343" stroke="#000" stroke-width="1" />
<path d="M1020.1 234.7 A79 59 0 0 1 1041.6 341.7" fill="none" stroke="#000" stroke-width="4.2" />
<path d="M1043.6 340.2 Q1026 349 1003 352.5 Q1009 362 1007 374 L1012 377 L1043.6 344.7 Z" fill="#000" stroke="#000" stroke-width="0.8" />
<path d="M1011 373.5 L959 420.5 L942.5 432.5" fill="none" stroke="#000" stroke-width="4.8" stroke-linejoin="round"/>
<line x1="941.5" y1="430" x2="941.5" y2="478" stroke="#000" stroke-width="1.6" />
<ellipse cx="1010" cy="232.5" rx="9" ry="5.8" fill="#fff" stroke="#000" stroke-width="3"/>
<line x1="1004" y1="232.5" x2="1016" y2="232.5" stroke="#000" stroke-width="0.9" />
<rect x="1002" y="239" width="8" height="19" fill="#999"/>
<rect x="993" y="240.5" width="34" height="3" fill="#777"/>
<line x1="960" y1="280" x2="1038" y2="304" stroke="#000" stroke-width="1" />
<line x1="940" y1="246" x2="1018" y2="280" stroke="#000" stroke-width="1" />
<line x1="926" y1="310" x2="1113" y2="252.5" stroke="#000" stroke-width="1" />
<line x1="998" y1="291.7" x2="1056.7" y2="258" stroke="#000" stroke-width="1" />
<line x1="1023" y1="266.5" x2="1038" y2="304" stroke="#000" stroke-width="1" />
<line x1="1036" y1="270" x2="1036.5" y2="302" stroke="#000" stroke-width="1" />
<line x1="1023" y1="266.5" x2="1040" y2="272" stroke="#000" stroke-width="0.9" />
<text x="0" y="0" font-size="8.48" text-anchor="start" font-weight="normal" fill="#000" transform="translate(954 253) rotate(17) scale(1.16 1)" >R5000</text>
<text x="0" y="0" font-size="8.48" text-anchor="start" font-weight="normal" fill="#000" transform="translate(1003 272) scale(1.16 1)" >5550</text>
<text x="0" y="0" font-size="9.01" text-anchor="start" font-weight="normal" fill="#000" transform="translate(970 279) rotate(17) scale(1.16 1)" >ø1900</text>
<text x="0" y="0" font-size="7.95" text-anchor="start" font-weight="normal" fill="#000" transform="translate(1033.5 294) rotate(-90) scale(1.16 1)" >400</text>
<text x="0" y="0" font-size="9.01" text-anchor="start" font-weight="normal" fill="#000" transform="translate(925 307) rotate(-13) scale(1.16 1)" >ø1875</text>
<text x="0" y="0" font-size="7.95" text-anchor="start" font-weight="normal" fill="#000" transform="translate(1036 262) rotate(-28) scale(1.16 1)" >145</text>
<text x="0" y="0" font-size="8.48" text-anchor="start" font-weight="normal" fill="#000" transform="translate(1073 259) rotate(-12) scale(1.16 1)" >145</text>
<text x="0" y="0" font-size="9.01" text-anchor="start" font-weight="normal" fill="#000" transform="translate(942 363) scale(1.16 1)" >R400</text>
<line x1="941" y1="366.7" x2="973" y2="361.7" stroke="#000" stroke-width="1.1" />
<text x="0" y="0" font-size="7.95" text-anchor="start" font-weight="bold" fill="#000" transform="translate(1029 341) scale(1.16 1)" >A</text>
<text x="0" y="0" font-size="7.95" text-anchor="start" font-weight="bold" fill="#000" transform="translate(993 348) scale(1.16 1)" >A</text>
<line x1="1001" y1="344" x2="1010" y2="344" stroke="#000" stroke-width="1" />
<text x="0" y="0" font-size="7.95" text-anchor="start" font-weight="bold" fill="#000" transform="translate(1029 438) scale(1.16 1)" >A</text>
<line x1="1015" y1="435" x2="1023" y2="435" stroke="#000" stroke-width="1" />
<line x1="1022.5" y1="117" x2="1022.5" y2="706" stroke="#000" stroke-width="1.1" />
<path d="M897 145.3 H1147 C1158 146 1160.5 157 1160.5 165 C1160.5 173 1158 183.5 1147 184.2 H897 C886 183.5 882 174 882 165 C882 156 886 146 897 145.3 Z" fill="#fff" stroke="#000" stroke-width="1.7" />
<line x1="897" y1="145.3" x2="897" y2="184.2" stroke="#000" stroke-width="1.2" />
<line x1="1147" y1="145.3" x2="1147" y2="184.2" stroke="#000" stroke-width="1.2" />
<line x1="875.5" y1="165" x2="1165" y2="165" stroke="#000" stroke-width="1.1" />
<line x1="897" y1="177.3" x2="1147" y2="177.3" stroke="#000" stroke-width="1" />
<line x1="897" y1="181.3" x2="1147" y2="181.3" stroke="#000" stroke-width="1.3" />
<line x1="980.2" y1="145" x2="980.2" y2="184" stroke="#000" stroke-width="1.3" />
<line x1="1064" y1="145" x2="1064" y2="184" stroke="#000" stroke-width="1.3" />
<path d="M888 181.5 L897 176 L897 183.8 Z" fill="#000" stroke="#000" stroke-width="0.5" />
<path d="M1156 181.5 L1147 176 L1147 183.8 Z" fill="#000" stroke="#000" stroke-width="0.5" />
<line x1="955" y1="157.5" x2="955" y2="173" stroke="#000" stroke-width="1.3" />
<path d="M1006 184 V172 Q1006 168 1009.8 168 Q1013.6 168 1013.6 172 V184" fill="#aaa" stroke="#000" stroke-width="1" />
<path d="M1018.7 170V200M1022.3 170V200M1025.8 170V200" fill="none" stroke="#000" stroke-width="1" />
<path d="M1160.5 154.5 H1164.5 V174.5 H1160.5" fill="none" stroke="#000" stroke-width="1.1" />
<path d="M1164.5 160.5 L1177 165 L1164.5 169.5 Z" fill="#000" stroke="#000" stroke-width="0.5" />
<rect x="929.5" y="146" width="9.2" height="9" fill="#bbb"/>
<line x1="929.5" y1="143" x2="929.5" y2="155" stroke="#000" stroke-width="1.2" />
<line x1="938.7" y1="143" x2="938.7" y2="155" stroke="#000" stroke-width="1.2" />
<line x1="928.9" y1="155" x2="939.3" y2="155" stroke="#000" stroke-width="1.4" />
<line x1="934.1" y1="146" x2="934.1" y2="155" stroke="#000" stroke-width="0.8" />
<rect x="955" y="146" width="8.5" height="9" fill="#bbb"/>
<line x1="955" y1="143" x2="955" y2="155" stroke="#000" stroke-width="1.2" />
<line x1="963.5" y1="143" x2="963.5" y2="155" stroke="#000" stroke-width="1.2" />
<line x1="954.4" y1="155" x2="964.1" y2="155" stroke="#000" stroke-width="1.4" />
<line x1="959.25" y1="146" x2="959.25" y2="155" stroke="#000" stroke-width="0.8" />
<rect x="981" y="146" width="8.7" height="9" fill="#bbb"/>
<line x1="981" y1="143" x2="981" y2="155" stroke="#000" stroke-width="1.2" />
<line x1="989.7" y1="143" x2="989.7" y2="155" stroke="#000" stroke-width="1.2" />
<line x1="980.4" y1="155" x2="990.3" y2="155" stroke="#000" stroke-width="1.4" />
<line x1="985.35" y1="146" x2="985.35" y2="155" stroke="#000" stroke-width="0.8" />
<rect x="1031" y="146" width="8" height="9" fill="#bbb"/>
<line x1="1031" y1="143" x2="1031" y2="155" stroke="#000" stroke-width="1.2" />
<line x1="1039" y1="143" x2="1039" y2="155" stroke="#000" stroke-width="1.2" />
<line x1="1030.4" y1="155" x2="1039.6" y2="155" stroke="#000" stroke-width="1.4" />
<line x1="1035" y1="146" x2="1035" y2="155" stroke="#000" stroke-width="0.8" />
<rect x="1054.8" y="146" width="8.5" height="9" fill="#bbb"/>
<line x1="1054.8" y1="143" x2="1054.8" y2="155" stroke="#000" stroke-width="1.2" />
<line x1="1063.3" y1="143" x2="1063.3" y2="155" stroke="#000" stroke-width="1.2" />
<line x1="1054.2" y1="155" x2="1063.9" y2="155" stroke="#000" stroke-width="1.4" />
<line x1="1059.05" y1="146" x2="1059.05" y2="155" stroke="#000" stroke-width="0.8" />
<rect x="1080.3" y="146" width="9.2" height="9" fill="#bbb"/>
<line x1="1080.3" y1="143" x2="1080.3" y2="155" stroke="#000" stroke-width="1.2" />
<line x1="1089.5" y1="143" x2="1089.5" y2="155" stroke="#000" stroke-width="1.2" />
<line x1="1079.7" y1="155" x2="1090.1" y2="155" stroke="#000" stroke-width="1.4" />
<line x1="1084.9" y1="146" x2="1084.9" y2="155" stroke="#000" stroke-width="0.8" />
<path d="M931 146 Q931 136 942 136 H1075 Q1087.5 136 1087.5 146" fill="none" stroke="#000" stroke-width="1.1" />
<path d="M933.6 146 Q933.6 138.5 943.5 138.5 H1073.5 Q1084.9 138.5 1084.9 146" fill="none" stroke="#000" stroke-width="1.1" />
<path d="M936.2 146 Q936.2 141 945 141 H1072 Q1082.3 141 1082.3 146" fill="none" stroke="#000" stroke-width="1.1" />
<path d="M956 146 Q956 142 960 141" fill="none" stroke="#000" stroke-width="1" />
<path d="M962 146 Q962 143 965 141" fill="none" stroke="#000" stroke-width="1" />
<path d="M982 146 Q982 142 986 141" fill="none" stroke="#000" stroke-width="1" />
<path d="M988 146 Q988 143 991 141" fill="none" stroke="#000" stroke-width="1" />
<path d="M1032 146 Q1032 143 1029 141" fill="none" stroke="#000" stroke-width="1" />
<path d="M1038 146 Q1038 142 1034 141" fill="none" stroke="#000" stroke-width="1" />
<path d="M1056 146 Q1056 143 1053 141" fill="none" stroke="#000" stroke-width="1" />
<path d="M1062 146 Q1062 142 1058 141" fill="none" stroke="#000" stroke-width="1" />
<line x1="1013" y1="117" x2="1013" y2="150" stroke="#000" stroke-width="1.9" />
<line x1="1031" y1="117" x2="1031" y2="150" stroke="#000" stroke-width="1.9" />
<line x1="1013" y1="150.2" x2="1031" y2="150.2" stroke="#000" stroke-width="1.2" />
<rect x="1010" y="139.6" width="24" height="6.4" fill="#111"/>
<ellipse cx="1022.3" cy="124.7" rx="8" ry="6" fill="#fff" stroke="#000" stroke-width="1.8"/>
<line x1="1008" y1="124.7" x2="1036" y2="124.7" stroke="#000" stroke-width="1.1" />
<ellipse cx="925" cy="121.2" rx="7.5" ry="5" fill="#fff" stroke="#000" stroke-width="1.3"/>
<line x1="920" y1="118" x2="930" y2="124.5" stroke="#000" stroke-width="1" />
<line x1="920" y1="124.5" x2="930" y2="118" stroke="#000" stroke-width="1" />
<line x1="925" y1="126" x2="925" y2="145" stroke="#000" stroke-width="2" />
<path d="M925 128.5 L930.5 133 L925 137.5 L919.5 133 Z" fill="#000" stroke="#000" stroke-width="0.5" />
<rect x="920.5" y="140.3" width="9" height="2.7" fill="#000"/>
<ellipse cx="1118.5" cy="121.2" rx="7.5" ry="5" fill="#fff" stroke="#000" stroke-width="1.3"/>
<line x1="1113.5" y1="118" x2="1123.5" y2="124.5" stroke="#000" stroke-width="1" />
<line x1="1113.5" y1="124.5" x2="1123.5" y2="118" stroke="#000" stroke-width="1" />
<line x1="1118.5" y1="126" x2="1118.5" y2="145" stroke="#000" stroke-width="2" />
<path d="M1118.5 128.5 L1124 133 L1118.5 137.5 L1113 133 Z" fill="#000" stroke="#000" stroke-width="0.5" />
<rect x="1114" y="140.3" width="9" height="2.7" fill="#000"/>
<path d="M952 145 L952 139 L954.5 135 L954.5 131 L957.5 131 L957.5 135 L960 139 L960 145 Z" fill="#111" stroke="#000" stroke-width="0.5" />
<line x1="953" y1="130" x2="959" y2="130" stroke="#000" stroke-width="1.4" />
<path d="M1084.8 145 L1084.8 139 L1087.3 135 L1087.3 131 L1090.3 131 L1090.3 135 L1092.8 139 L1092.8 145 Z" fill="#111" stroke="#000" stroke-width="0.5" />
<line x1="1085.8" y1="130" x2="1091.8" y2="130" stroke="#000" stroke-width="1.4" />
<path d="M1132 144 L1136 141 L1142 136.5" fill="none" stroke="#000" stroke-width="1.8" />
<rect x="1131" y="142.5" width="8" height="2" fill="#000"/>
<rect x="833.5" y="209" width="68" height="29.5" fill="none" stroke="#000" stroke-width="1.1"/>
<line x1="868" y1="209" x2="868" y2="238.5" stroke="#000" stroke-width="1.1" />
<line x1="833.5" y1="225" x2="901.5" y2="225" stroke="#000" stroke-width="1" />
<rect x="833.5" y="239" width="68" height="5" fill="#8a8a8a"/>
<line x1="833.5" y1="244.5" x2="901.5" y2="244.5" stroke="#000" stroke-width="1.5" />
<line x1="837.5" y1="244.5" x2="901.5" y2="260" stroke="#000" stroke-width="1" />
<line x1="837.5" y1="247" x2="901.5" y2="262.5" stroke="#000" stroke-width="1" />
<rect x="833.5" y="304" width="68" height="29" fill="none" stroke="#000" stroke-width="1.1"/>
<line x1="868" y1="304" x2="868" y2="333" stroke="#000" stroke-width="1.1" />
<line x1="833.5" y1="319" x2="901.5" y2="319" stroke="#000" stroke-width="1" />
<rect x="833.5" y="333.5" width="68" height="5" fill="#8a8a8a"/>
<line x1="833.5" y1="339" x2="901.5" y2="339" stroke="#000" stroke-width="1.5" />
<line x1="837.5" y1="339" x2="901.5" y2="354.5" stroke="#000" stroke-width="1" />
<line x1="837.5" y1="341.5" x2="901.5" y2="357" stroke="#000" stroke-width="1" />
<rect x="833.5" y="410" width="68" height="29" fill="none" stroke="#000" stroke-width="1.1"/>
<line x1="868" y1="410" x2="868" y2="439" stroke="#000" stroke-width="1.1" />
<line x1="833.5" y1="424.5" x2="901.5" y2="424.5" stroke="#000" stroke-width="1" />
<rect x="833.5" y="439.5" width="68" height="5" fill="#8a8a8a"/>
<line x1="833.5" y1="445" x2="901.5" y2="445" stroke="#000" stroke-width="1.5" />
<line x1="837.5" y1="445" x2="901.5" y2="460.5" stroke="#000" stroke-width="1" />
<line x1="837.5" y1="447.5" x2="901.5" y2="463" stroke="#000" stroke-width="1" />
<rect x="833.5" y="503.5" width="68" height="29.5" fill="none" stroke="#000" stroke-width="1.1"/>
<line x1="868" y1="503.5" x2="868" y2="533" stroke="#000" stroke-width="1.1" />
<line x1="833.5" y1="519" x2="901.5" y2="519" stroke="#000" stroke-width="1" />
<rect x="833.5" y="533.5" width="68" height="5" fill="#8a8a8a"/>
<line x1="833.5" y1="539" x2="901.5" y2="539" stroke="#000" stroke-width="1.5" />
<line x1="837.5" y1="539" x2="901.5" y2="554.5" stroke="#000" stroke-width="1" />
<line x1="837.5" y1="541.5" x2="901.5" y2="557" stroke="#000" stroke-width="1" />
<line x1="837.5" y1="245" x2="837.5" y2="303" stroke="#000" stroke-width="1.2" />
<line x1="865" y1="245" x2="865" y2="303" stroke="#000" stroke-width="1.2" />
<path d="M837.5 249.48H865M837.5 255.08H865M837.5 260.68H865M837.5 266.28H865M837.5 271.88H865M837.5 277.48H865M837.5 283.08H865M837.5 288.68H865M837.5 294.28H865M837.5 299.88H865" fill="none" stroke="#000" stroke-width="1" />
<line x1="837.5" y1="339.5" x2="837.5" y2="409.5" stroke="#000" stroke-width="1.2" />
<line x1="865" y1="339.5" x2="865" y2="409.5" stroke="#000" stroke-width="1.2" />
<path d="M837.5 343.98H865M837.5 349.58H865M837.5 355.18H865M837.5 360.78H865M837.5 366.38H865M837.5 371.98H865M837.5 377.58H865M837.5 383.18H865M837.5 388.78H865M837.5 394.38H865M837.5 399.98H865M837.5 405.58H865" fill="none" stroke="#000" stroke-width="1" />
<line x1="837.5" y1="445.5" x2="837.5" y2="503" stroke="#000" stroke-width="1.2" />
<line x1="865" y1="445.5" x2="865" y2="503" stroke="#000" stroke-width="1.2" />
<path d="M837.5 449.98H865M837.5 455.58H865M837.5 461.18H865M837.5 466.78H865M837.5 472.38H865M837.5 477.98H865M837.5 483.58H865M837.5 489.18H865M837.5 494.78H865M837.5 500.38H865" fill="none" stroke="#000" stroke-width="1" />
<line x1="837.5" y1="540" x2="837.5" y2="597" stroke="#000" stroke-width="1.2" />
<line x1="860" y1="540" x2="860" y2="597" stroke="#000" stroke-width="1.2" />
<path d="M837.5 544.96H860M837.5 551.16H860M837.5 557.36H860M837.5 563.56H860M837.5 569.76H860M837.5 575.96H860M837.5 582.16H860M837.5 588.36H860M837.5 594.56H860" fill="none" stroke="#000" stroke-width="1" />
<text x="0" y="0" font-size="9.01" text-anchor="start" font-weight="normal" fill="#000" transform="translate(792.5 231) scale(1.16 1)" >16440</text>
<line x1="771" y1="232" x2="823" y2="232" stroke="#000" stroke-width="1.1" />
<path d="M771 232 L782.5 240 L794 232" fill="none" stroke="#000" stroke-width="1.1" />
<line x1="782.5" y1="240" x2="834" y2="240" stroke="#000" stroke-width="1.1" />
<text x="0" y="0" font-size="9.01" text-anchor="start" font-weight="normal" fill="#000" transform="translate(792.5 324.5) scale(1.16 1)" >13430</text>
<line x1="771" y1="325.5" x2="823" y2="325.5" stroke="#000" stroke-width="1.1" />
<path d="M771 325.5 L782.5 334.5 L794 325.5" fill="none" stroke="#000" stroke-width="1.1" />
<line x1="782.5" y1="334.5" x2="834" y2="334.5" stroke="#000" stroke-width="1.1" />
<text x="0" y="0" font-size="9.01" text-anchor="start" font-weight="normal" fill="#000" transform="translate(792.5 431) scale(1.16 1)" >10020</text>
<line x1="771" y1="432" x2="823" y2="432" stroke="#000" stroke-width="1.1" />
<path d="M771 432 L782.5 441 L794 432" fill="none" stroke="#000" stroke-width="1.1" />
<line x1="782.5" y1="441" x2="834" y2="441" stroke="#000" stroke-width="1.1" />
<text x="0" y="0" font-size="9.01" text-anchor="start" font-weight="normal" fill="#000" transform="translate(814.5 541) scale(1.16 1)" >6500</text>
<line x1="791.6" y1="542" x2="834" y2="542" stroke="#000" stroke-width="1.1" />
<path d="M791.6 542 L802.6 550.5 L813.6 542" fill="none" stroke="#000" stroke-width="1.1" />
<line x1="802.6" y1="550.5" x2="899" y2="550.5" stroke="#000" stroke-width="1.1" />
<line x1="833.5" y1="536" x2="833.5" y2="706" stroke="#000" stroke-width="1.5" />
<text x="0" y="0" font-size="11.5" text-anchor="middle" font-weight="normal" fill="#000" transform="translate(745 293) scale(1.4 1)" >4</text>
<line x1="726" y1="297" x2="762.5" y2="297" stroke="#000" stroke-width="1.1" />
<line x1="762.5" y1="297" x2="852.5" y2="269.5" stroke="#000" stroke-width="1.2" />
<circle cx="852.5" cy="269.5" r="1.3" fill="#000" stroke="#000" stroke-width="1"/>
<text x="0" y="0" font-size="11.5" text-anchor="middle" font-weight="normal" fill="#000" transform="translate(745 335) scale(1.4 1)" >7</text>
<line x1="726" y1="339" x2="762.5" y2="339" stroke="#000" stroke-width="1.1" />
<line x1="762.5" y1="339" x2="910" y2="437.5" stroke="#000" stroke-width="1.2" />
<text x="0" y="0" font-size="11.5" text-anchor="middle" font-weight="normal" fill="#000" transform="translate(742 556) scale(1.55 1)" >10</text>
<line x1="721" y1="559" x2="755" y2="559" stroke="#000" stroke-width="1.1" />
<line x1="755" y1="559" x2="837.8" y2="577.6" stroke="#000" stroke-width="1.2" />
<rect x="851.4" y="535" width="7.2" height="74" fill="#aaa"/>
<line x1="851.4" y1="535" x2="851.4" y2="609" stroke="#000" stroke-width="1.1" />
<line x1="858.6" y1="535" x2="858.6" y2="609" stroke="#000" stroke-width="1.1" />
<line x1="855" y1="545" x2="855" y2="612" stroke="#000" stroke-width="0.8" />
<rect x="850.4" y="549.6" width="48.8" height="3.6" fill="#000"/>
<rect x="867" y="546" width="3" height="10.5" fill="#000"/>
<rect x="872.7" y="546" width="3" height="10.5" fill="#000"/>
<rect x="841.4" y="565.9" width="28" height="4.5" fill="#111"/>
<rect x="841.4" y="577.6" width="28" height="4.4" fill="#111"/>
<path d="M848 570.4 L862 570.4 L855 574 L862 577.6 L848 577.6 L855 574 Z" fill="#333" stroke="#000" stroke-width="0.6" />
<rect x="826" y="597.5" width="75.5" height="6.3" fill="url(#dh)"/>
<line x1="826" y1="597.5" x2="902" y2="597.5" stroke="#000" stroke-width="1.1" />
<line x1="826" y1="603.8" x2="902" y2="603.8" stroke="#000" stroke-width="1.1" />
<path d="M890.5 513.6 L896 510.6 L896 516.6 Z" fill="#000" stroke="#000" stroke-width="0.5" />
<rect x="896" y="511" width="5.5" height="5.2" fill="none" stroke="#000" stroke-width="1"/>
<line x1="896" y1="513.6" x2="921" y2="513.6" stroke="#000" stroke-width="0.9" />
<path d="M890.5 584.8 L896 581.8 L896 587.8 Z" fill="#000" stroke="#000" stroke-width="0.5" />
<rect x="896" y="582.2" width="5.5" height="5.2" fill="none" stroke="#000" stroke-width="1"/>
<line x1="896" y1="584.8" x2="921" y2="584.8" stroke="#000" stroke-width="0.9" />
<line x1="902" y1="495" x2="921" y2="495" stroke="#000" stroke-width="1.1" />
<rect x="902.5" y="495" width="8" height="104" fill="url(#wh)"/>
<rect x="910.5" y="495" width="10" height="104" fill="url(#xh2)"/>
<line x1="902.5" y1="495" x2="902.5" y2="599" stroke="#000" stroke-width="1.2" />
<line x1="910.5" y1="495" x2="910.5" y2="599" stroke="#000" stroke-width="1" />
<line x1="920.8" y1="495" x2="920.8" y2="599" stroke="#000" stroke-width="1.2" />
<rect x="1133" y="495" width="8.7" height="105" fill="url(#wh)"/>
<line x1="1133" y1="495" x2="1133" y2="600" stroke="#000" stroke-width="1.2" />
<line x1="1141.7" y1="495" x2="1141.7" y2="600" stroke="#000" stroke-width="1.2" />
<line x1="1122" y1="495" x2="1142" y2="495" stroke="#000" stroke-width="1.1" />
<path d="M923 479H927.55V583H923ZM932.1 479H936.65V583H932.1ZM941.2 479H945.75V583H941.2ZM950.3 479H954.85V583H950.3ZM959.4 479H963.95V583H959.4ZM968.5 479H973.05V583H968.5ZM977.6 479H982.15V583H977.6ZM986.7 479H991.25V583H986.7ZM995.8 479H1000.35V583H995.8ZM1004.9 479H1009.45V583H1004.9ZM1014 479H1018.55V583H1014ZM1023.1 479H1027.65V583H1023.1ZM1032.2 479H1036.75V583H1032.2ZM1041.3 479H1045.85V583H1041.3ZM1050.4 479H1054.95V583H1050.4ZM1059.5 479H1064.05V583H1059.5ZM1068.6 479H1073.15V583H1068.6ZM1077.7 479H1082.25V583H1077.7ZM1086.8 479H1091.35V583H1086.8ZM1095.9 479H1100.45V583H1095.9ZM1105 479H1109.55V583H1105ZM1114.1 479H1118.65V583H1114.1Z" fill="#b0b0b0" stroke="none"/>
<path d="M923 479V583M927.55 479V583M932.1 479V583M936.65 479V583M941.2 479V583M945.75 479V583M950.3 479V583M954.85 479V583M959.4 479V583M963.95 479V583M968.5 479V583M973.05 479V583M977.6 479V583M982.15 479V583M986.7 479V583M991.25 479V583M995.8 479V583M1000.35 479V583M1004.9 479V583M1009.45 479V583M1014 479V583M1018.55 479V583M1023.1 479V583M1027.65 479V583M1032.2 479V583M1036.75 479V583M1041.3 479V583M1045.85 479V583M1050.4 479V583M1054.95 479V583M1059.5 479V583M1064.05 479V583M1068.6 479V583M1073.15 479V583M1077.7 479V583M1082.25 479V583M1086.8 479V583M1091.35 479V583M1095.9 479V583M1100.45 479V583M1105 479V583M1109.55 479V583M1114.1 479V583M1118.65 479V583" fill="none" stroke="#111" stroke-width="1.5" />
<line x1="921" y1="478.6" x2="1122" y2="478.6" stroke="#000" stroke-width="1.4" />
<line x1="921" y1="583" x2="1122" y2="583" stroke="#000" stroke-width="1.4" />
<line x1="891" y1="511.5" x2="1152" y2="511.5" stroke="#000" stroke-width="1.2" />
<line x1="891" y1="515.3" x2="1152" y2="515.3" stroke="#000" stroke-width="1.6" />
<path d="M921 500H1122M921 524H1122M921 536H1122M921 548H1122M921 560H1122M921 572H1122" fill="none" stroke="#888" stroke-width="0.6" />
<line x1="940" y1="464" x2="940" y2="520" stroke="#222" stroke-width="2" />
<line x1="956.7" y1="430" x2="956.7" y2="600" stroke="#111" stroke-width="2.2" />
<line x1="1086.5" y1="430" x2="1086.5" y2="600" stroke="#111" stroke-width="2.2" />
<line x1="1104" y1="464" x2="1104" y2="520" stroke="#555" stroke-width="2" />
<line x1="921" y1="464.5" x2="1122" y2="464.5" stroke="#000" stroke-width="1" />
<line x1="941.5" y1="474.3" x2="1106" y2="474.3" stroke="#000" stroke-width="1" />
<text x="0" y="0" font-size="9.54" text-anchor="middle" font-weight="normal" fill="#000" transform="translate(970.5 461.5) scale(1.16 1)" >2430</text>
<text x="0" y="0" font-size="9.54" text-anchor="middle" font-weight="normal" fill="#000" transform="translate(1073 461.5) scale(1.16 1)" >2430</text>
<text x="0" y="0" font-size="9.54" text-anchor="middle" font-weight="normal" fill="#000" transform="translate(1022 471.5) scale(1.16 1)" >3960</text>
<path d="M1122 464.5 L1116 463.2 L1116 465.8 Z" fill="#000" stroke="#000" stroke-width="0.5" />
<path d="M1106 474.3 L1100 473 L1100 475.6 Z" fill="#000" stroke="#000" stroke-width="0.5" />
<path d="M1018 476 L1027 476 L1026 481 L1022.5 486 L1019 481 Z" fill="#fff" stroke="#000" stroke-width="0.6" />
<path d="M931.7 530 L933 518 L969 569 L969 599 L938 599 L938 583 L931.7 583 Z" fill="url(#xh3)" stroke="#000" stroke-width="0.8" />
<rect x="931.7" y="532.5" width="9.3" height="50" fill="url(#dh)"/>
<line x1="922" y1="500" x2="969" y2="569" stroke="#000" stroke-width="3.4" />
<path d="M1112.5 513.7 L1112.5 599 L1077 599 L1077 570 Z" fill="url(#xh3)" stroke="#000" stroke-width="0.8" />
<rect x="1098" y="520" width="12.4" height="79" fill="url(#dh)"/>
<line x1="1098" y1="530" x2="1098" y2="599" stroke="#000" stroke-width="0.9" />
<line x1="1110.6" y1="513" x2="1110.6" y2="599" stroke="#000" stroke-width="1.1" />
<line x1="1125" y1="493" x2="1077" y2="570" stroke="#000" stroke-width="3.4" />
<path d="M1116.7 497V599M1120.8 497V599" fill="none" stroke="#000" stroke-width="0.9" />
<line x1="934" y1="519.5" x2="1005" y2="541.5" stroke="#111" stroke-width="4.6" />
<line x1="967" y1="568.5" x2="1005" y2="557" stroke="#111" stroke-width="4.6" />
<line x1="996.5" y1="541" x2="996.5" y2="558" stroke="#111" stroke-width="2.6" />
<line x1="1111" y1="517.5" x2="1039" y2="541.5" stroke="#111" stroke-width="4.6" />
<line x1="1078" y1="568.5" x2="1039" y2="557" stroke="#111" stroke-width="4.6" />
<line x1="1048" y1="541" x2="1048" y2="558" stroke="#111" stroke-width="2.6" />
<line x1="940" y1="522.5" x2="1003" y2="542" stroke="#888" stroke-width="0.8" />
<line x1="1105" y1="520.5" x2="1041" y2="542" stroke="#888" stroke-width="0.8" />
<rect x="1019.8" y="476" width="4.6" height="49" fill="#777"/>
<line x1="1019.8" y1="476" x2="1019.8" y2="525" stroke="#000" stroke-width="0.9" />
<line x1="1024.4" y1="476" x2="1024.4" y2="525" stroke="#000" stroke-width="0.9" />
<line x1="1014.6" y1="503.3" x2="1031" y2="503.3" stroke="#000" stroke-width="1.6" />
<rect x="1006.5" y="528" width="30.5" height="55" fill="#1a1a1a" stroke="#000" stroke-width="3.6" rx="4"/>
<rect x="1002" y="524.6" width="39.7" height="3.8" fill="#000"/>
<rect x="1012" y="532" width="20" height="6" fill="#eee" stroke="#000" stroke-width="1.2"/>
<line x1="1012" y1="543" x2="1020" y2="543" stroke="#ddd" stroke-width="1.6" />
<line x1="1024" y1="543" x2="1030.4" y2="543" stroke="#ccc" stroke-width="1.6" />
<line x1="1012" y1="549" x2="1018" y2="549" stroke="#ddd" stroke-width="1.6" />
<line x1="1024" y1="549" x2="1028.8" y2="549" stroke="#ccc" stroke-width="1.6" />
<line x1="1012" y1="556" x2="1021" y2="556" stroke="#ddd" stroke-width="1.6" />
<line x1="1024" y1="556" x2="1031.2" y2="556" stroke="#ccc" stroke-width="1.6" />
<line x1="1012" y1="563" x2="1017" y2="563" stroke="#ddd" stroke-width="1.6" />
<line x1="1024" y1="563" x2="1028" y2="563" stroke="#ccc" stroke-width="1.6" />
<line x1="1012" y1="570" x2="1020" y2="570" stroke="#ddd" stroke-width="1.6" />
<line x1="1024" y1="570" x2="1030.4" y2="570" stroke="#ccc" stroke-width="1.6" />
<line x1="1012" y1="576" x2="1018" y2="576" stroke="#ddd" stroke-width="1.6" />
<line x1="1024" y1="576" x2="1028.8" y2="576" stroke="#ccc" stroke-width="1.6" />
<path d="M1154.5 513.6 L1149 510.6 L1149 516.6 Z" fill="#000" stroke="#000" stroke-width="0.5" />
<line x1="1112" y1="513.6" x2="1149" y2="513.6" stroke="#000" stroke-width="0.9" />
<path d="M1154.5 584.8 L1149 581.8 L1149 587.8 Z" fill="#000" stroke="#000" stroke-width="0.5" />
<line x1="1112" y1="584.8" x2="1149" y2="584.8" stroke="#000" stroke-width="0.9" />
<path d="M969 586.7H1077M969 595H1077M969 599H1077M969 606.5H1077M969 613.7H1077" fill="none" stroke="#000" stroke-width="1" />
<line x1="960" y1="590.8" x2="1086" y2="590.8" stroke="#000" stroke-width="2.2" />
<line x1="921" y1="587" x2="969" y2="587" stroke="#000" stroke-width="1" />
<line x1="1077" y1="587" x2="1133" y2="587" stroke="#000" stroke-width="1" />
<rect x="902.5" y="598" width="66.5" height="5.5" fill="url(#dh)"/>
<rect x="902.5" y="598" width="15.5" height="15.7" fill="url(#dh)"/>
<rect x="902.5" y="598" width="15.5" height="15.7" fill="none" stroke="#000" stroke-width="1"/>
<rect x="956.7" y="598" width="12.3" height="15.7" fill="url(#dh)"/>
<rect x="956.7" y="598" width="12.3" height="15.7" fill="none" stroke="#000" stroke-width="1"/>
<rect x="1076" y="598" width="11.5" height="15.7" fill="url(#dh)"/>
<rect x="1076" y="598" width="11.5" height="15.7" fill="none" stroke="#000" stroke-width="1"/>
<rect x="1127" y="598" width="14.7" height="15.7" fill="url(#dh)"/>
<rect x="1127" y="598" width="14.7" height="15.7" fill="none" stroke="#000" stroke-width="1"/>
<rect x="1087.5" y="598" width="116.5" height="6" fill="url(#dh)"/>
<line x1="1087.5" y1="598" x2="1204" y2="598" stroke="#000" stroke-width="1.1" />
<line x1="1087.5" y1="604" x2="1204" y2="604" stroke="#000" stroke-width="1.1" />
<line x1="900" y1="631" x2="1143" y2="631" stroke="#000" stroke-width="1" />
<text x="0" y="0" font-size="9.54" text-anchor="middle" font-weight="normal" fill="#000" transform="translate(1022 629) scale(1.16 1)" >5700</text>
<path d="M902 631 L908 629.7 L908 632.3 Z" fill="#000" stroke="#000" stroke-width="0.5" />
<path d="M1142 631 L1136 629.7 L1136 632.3 Z" fill="#000" stroke="#000" stroke-width="0.5" />
<line x1="901.5" y1="604" x2="901.5" y2="706" stroke="#000" stroke-width="1.3" />
<line x1="918.5" y1="613" x2="918.5" y2="706" stroke="#000" stroke-width="1" />
<rect x="920.5" y="604" width="5.5" height="102" fill="#aaa"/>
<line x1="920.5" y1="604" x2="920.5" y2="706" stroke="#000" stroke-width="1" />
<line x1="926" y1="604" x2="926" y2="706" stroke="#000" stroke-width="1" />
<line x1="930" y1="604" x2="930" y2="706" stroke="#000" stroke-width="1.1" />
<line x1="969.5" y1="613" x2="969.5" y2="706" stroke="#000" stroke-width="1.2" />
<line x1="976" y1="613" x2="976" y2="706" stroke="#000" stroke-width="0.9" />
<rect x="986" y="613" width="5" height="93" fill="#999"/>
<line x1="986" y1="613" x2="986" y2="706" stroke="#000" stroke-width="1.2" />
<line x1="991" y1="613" x2="991" y2="706" stroke="#000" stroke-width="1.2" />
<rect x="1054" y="613" width="5" height="93" fill="#999"/>
<line x1="1054" y1="613" x2="1054" y2="706" stroke="#000" stroke-width="1.2" />
<line x1="1059" y1="613" x2="1059" y2="706" stroke="#000" stroke-width="1.2" />
<line x1="1075.5" y1="613" x2="1075.5" y2="706" stroke="#000" stroke-width="1.5" />
<rect x="1125" y="613" width="3" height="93" fill="#999"/>
<line x1="1142.5" y1="600" x2="1142.5" y2="706" stroke="#000" stroke-width="1.5" />
<rect x="1142.5" y="209" width="61.5" height="29.5" fill="none" stroke="#000" stroke-width="1.1"/>
<line x1="1176.5" y1="209" x2="1176.5" y2="238.5" stroke="#000" stroke-width="1.1" />
<line x1="1142.5" y1="225" x2="1204" y2="225" stroke="#000" stroke-width="1" />
<rect x="1142.5" y="239" width="61.5" height="5" fill="#8a8a8a"/>
<line x1="1142.5" y1="244.5" x2="1204" y2="244.5" stroke="#000" stroke-width="1.5" />
<line x1="1142.5" y1="260" x2="1204" y2="244.5" stroke="#000" stroke-width="1" />
<line x1="1142.5" y1="262.5" x2="1204" y2="247" stroke="#000" stroke-width="1" />
<line x1="1181" y1="246" x2="1181" y2="303" stroke="#000" stroke-width="1.2" />
<line x1="1204" y1="246" x2="1204" y2="303" stroke="#000" stroke-width="1.2" />
<path d="M1181 250.48H1204M1181 256.08H1204M1181 261.68H1204M1181 267.28H1204M1181 272.88H1204M1181 278.48H1204M1181 284.08H1204M1181 289.68H1204M1181 295.28H1204M1181 300.88H1204" fill="none" stroke="#000" stroke-width="1" />
<rect x="1142.5" y="304" width="61.5" height="106" fill="none" stroke="#000" stroke-width="1.1"/>
<line x1="1160" y1="319" x2="1204" y2="319" stroke="#000" stroke-width="1" />
<rect x="1142.5" y="332.5" width="61.5" height="5" fill="#999"/>
<line x1="1142.5" y1="338" x2="1204" y2="338" stroke="#000" stroke-width="1.2" />
<line x1="1142.5" y1="332.5" x2="1204" y2="332.5" stroke="#000" stroke-width="1" />
<line x1="1142.5" y1="350" x2="1167.5" y2="339" stroke="#000" stroke-width="1" />
<line x1="1142.5" y1="352.5" x2="1167.5" y2="341.5" stroke="#000" stroke-width="1" />
<line x1="1142.5" y1="356" x2="1167.5" y2="347.5" stroke="#000" stroke-width="1" />
<line x1="1182" y1="344" x2="1204" y2="339" stroke="#000" stroke-width="1" />
<line x1="1181" y1="339" x2="1181" y2="408" stroke="#000" stroke-width="1.2" />
<line x1="1204" y1="339" x2="1204" y2="408" stroke="#000" stroke-width="1.2" />
<path d="M1181 343.48H1204M1181 349.08H1204M1181 354.68H1204M1181 360.28H1204M1181 365.88H1204M1181 371.48H1204M1181 377.08H1204M1181 382.68H1204M1181 388.28H1204M1181 393.88H1204M1181 399.48H1204M1181 405.08H1204" fill="none" stroke="#000" stroke-width="1" />
<path d="M1154 314V466M1160 314V466" fill="none" stroke="#000" stroke-width="1.1" />
<path d="M1174 306V466M1180 306V466M1184 306V466" fill="none" stroke="#000" stroke-width="1.1" />
<circle cx="1157.5" cy="314.5" r="4.5" fill="#fff" stroke="#000" stroke-width="1.2"/>
<line x1="1135" y1="319.5" x2="1153" y2="316" stroke="#000" stroke-width="2.4" />
<line x1="1162" y1="312.5" x2="1180" y2="312.5" stroke="#000" stroke-width="1" />
<line x1="1162" y1="316" x2="1180" y2="316" stroke="#000" stroke-width="1" />
<circle cx="1157.5" cy="377" r="4.5" fill="#fff" stroke="#000" stroke-width="1.2"/>
<line x1="1128" y1="383" x2="1153" y2="378" stroke="#000" stroke-width="2.4" />
<line x1="1162" y1="377" x2="1204" y2="377" stroke="#000" stroke-width="1" />
<line x1="1157.5" y1="306" x2="1157.5" y2="326" stroke="#000" stroke-width="0.8" />
<line x1="1148" y1="314.5" x2="1166" y2="314.5" stroke="#000" stroke-width="0.8" />
<path d="M1142.5 410.7H1204M1142.5 426H1204" fill="none" stroke="#000" stroke-width="1" />
<rect x="1142.5" y="438" width="61.5" height="5.5" fill="#999"/>
<line x1="1142.5" y1="444" x2="1204" y2="444" stroke="#000" stroke-width="1.2" />
<line x1="1142.5" y1="461" x2="1204" y2="443.5" stroke="#000" stroke-width="1" />
<line x1="1142.5" y1="463.5" x2="1204" y2="446" stroke="#000" stroke-width="1" />
<line x1="1180" y1="444" x2="1180" y2="502.5" stroke="#000" stroke-width="1.2" />
<line x1="1204" y1="444" x2="1204" y2="502.5" stroke="#000" stroke-width="1.2" />
<path d="M1180 448.48H1204M1180 454.08H1204M1180 459.68H1204M1180 465.28H1204M1180 470.88H1204M1180 476.48H1204M1180 482.08H1204M1180 487.68H1204M1180 493.28H1204M1180 498.88H1204" fill="none" stroke="#000" stroke-width="1" />
<text x="0" y="0" font-size="9.01" text-anchor="start" font-weight="normal" fill="#000" transform="translate(1162.5 485) scale(1.16 1)" >9300</text>
<path d="M1141 487 L1153.5 494.3 L1166 487" fill="none" stroke="#000" stroke-width="1.1" />
<line x1="1153.5" y1="494.3" x2="1167" y2="494.3" stroke="#000" stroke-width="1" />
<line x1="1141" y1="487" x2="1166" y2="487" stroke="#000" stroke-width="1" />
<rect x="1142.5" y="504" width="61.5" height="27.5" fill="none" stroke="#000" stroke-width="1.1"/>
<line x1="1176.5" y1="504" x2="1176.5" y2="531.5" stroke="#000" stroke-width="1.1" />
<line x1="1142.5" y1="520.5" x2="1204" y2="520.5" stroke="#000" stroke-width="1" />
<rect x="1142.5" y="532" width="61.5" height="5" fill="#8a8a8a"/>
<line x1="1142.5" y1="537.5" x2="1204" y2="537.5" stroke="#000" stroke-width="1.5" />
<line x1="1142.5" y1="554.5" x2="1204" y2="539" stroke="#000" stroke-width="1" />
<line x1="1142.5" y1="557" x2="1204" y2="541.5" stroke="#000" stroke-width="1" />
<line x1="1180" y1="542" x2="1180" y2="596" stroke="#000" stroke-width="1.2" />
<line x1="1204" y1="542" x2="1204" y2="596" stroke="#000" stroke-width="1.2" />
<path d="M1180 546.48H1204M1180 552.08H1204M1180 557.68H1204M1180 563.28H1204M1180 568.88H1204M1180 574.48H1204M1180 580.08H1204M1180 585.68H1204M1180 591.28H1204" fill="none" stroke="#000" stroke-width="1" />
</g>
<rect x="56" y="114" width="1151" height="595" fill="none" stroke="#000" stroke-width="6"/>
<g id="wm">
<g fill="#fff" stroke="#d0d0d0" stroke-width="0.6" style="filter:drop-shadow(1px 1px 0.6px rgba(0,0,0,0.6))">
<path d="M751 640c-11 0-20 7.3-20 16.300000000000001c0 5 2.8 9.5 7.2 12.5l-2.2 6.2 7.2-3.700000000000003c2.4 0.8 5 1.3 7.8 1.3c11 0 20-7.3 20-16.3s-9-16.3-20-16.3z"/>
<path d="M767 652c-10 0-18 6.6-18 14.7s8 14.7 18 14.7c2.300000000000001 0 4.5-0.4 6.5-1l6.5 3.6-1.8-5.800000000000001c4.2-2.7 6.8-6.8 6.8-11.5c0-8.100000000000001-8-14.7-18-14.7z"/>
<circle cx="744" cy="651" r="1.8"/><circle cx="758" cy="651" r="1.8"/><circle cx="761" cy="662" r="1.6"/><circle cx="773" cy="662" r="1.6"/>
</g>
<text x="791.5" y="674" font-size="31.5" font-weight="500" fill="#fff" textLength="445" lengthAdjust="spacing" style="font-family:'Liberation Sans','Noto Sans CJK SC',sans-serif;filter:drop-shadow(1px 1px 0.7px rgba(0,0,0,0.7))">启明星宇节能科技股份有限公司</text>
</g>
</svg>
</body></html>
